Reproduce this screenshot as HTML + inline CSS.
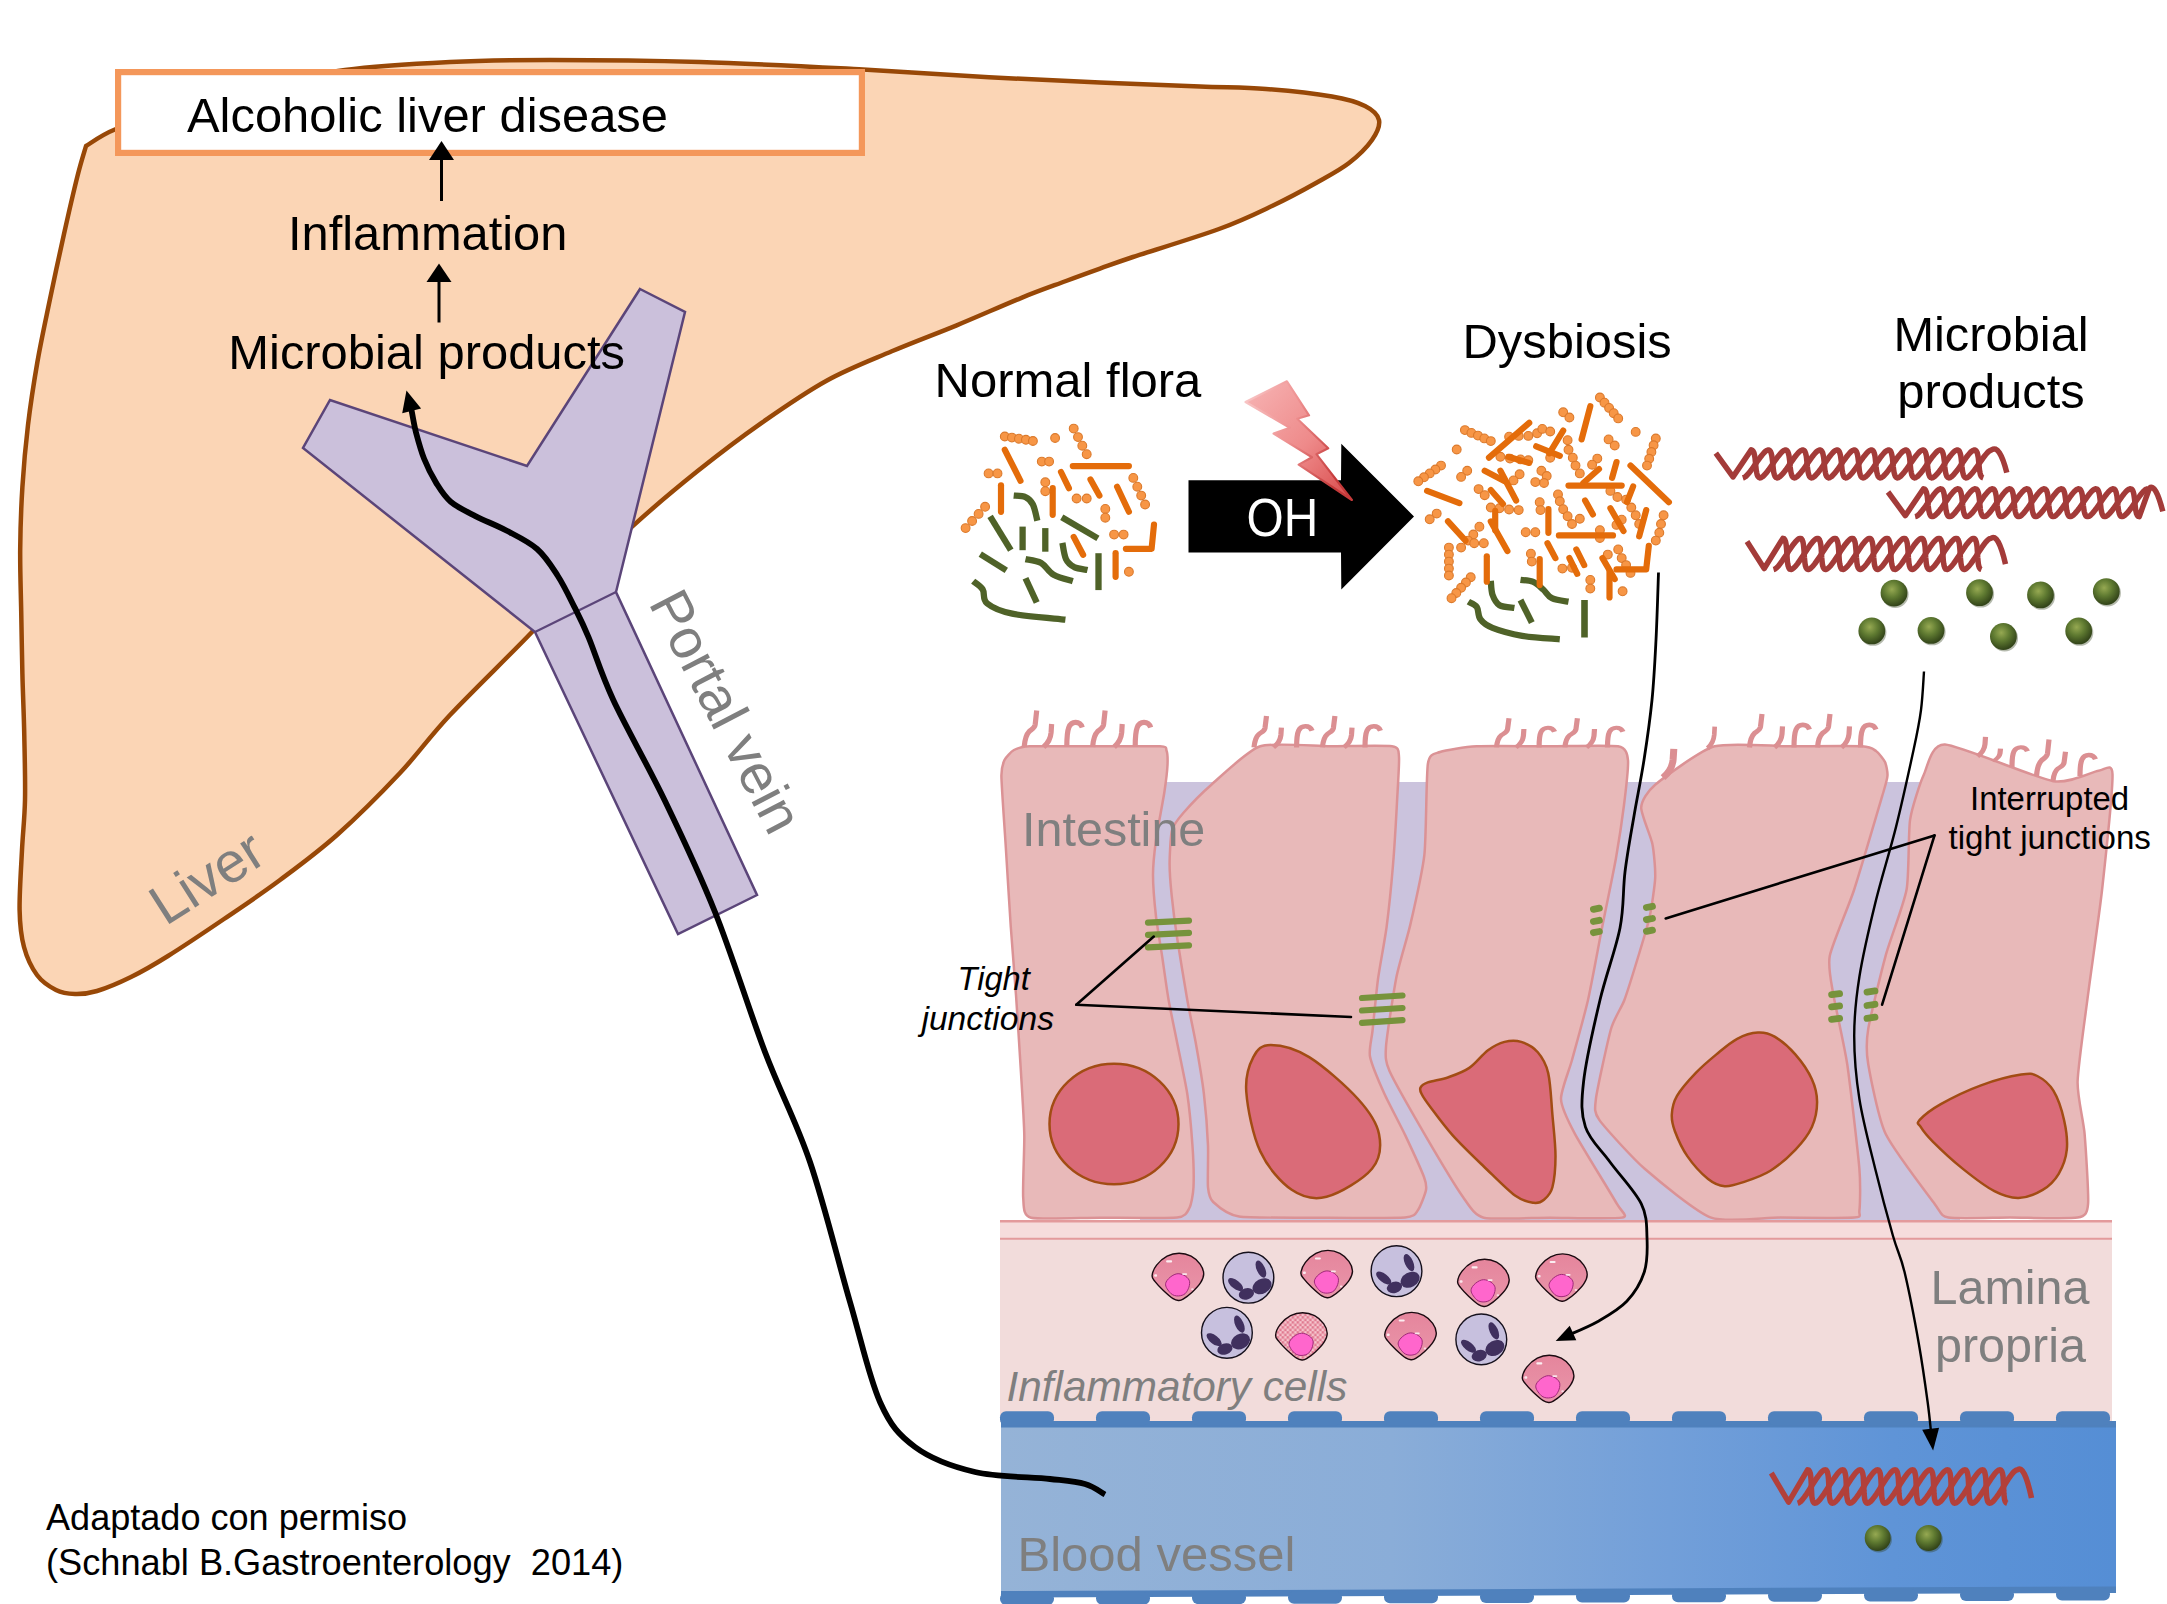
<!DOCTYPE html>
<html><head><meta charset="utf-8"><title>Gut-liver axis</title>
<style>
html,body{margin:0;padding:0;background:#fff;}
body{width:2167px;height:1604px;overflow:hidden;}
svg{display:block}
text{font-family:"Liberation Sans",sans-serif;}
</style></head><body>
<svg width="2167" height="1604" viewBox="0 0 2167 1604">
<defs>
<linearGradient id="gVessel" x1="0" y1="0" x2="1" y2="0">
 <stop offset="0" stop-color="#95B3D7"/><stop offset="0.35" stop-color="#8AADD8"/><stop offset="0.6" stop-color="#729FD9"/><stop offset="0.8" stop-color="#5F94D7"/><stop offset="1" stop-color="#558ED5"/>
</linearGradient>
<linearGradient id="gBolt" x1="0" y1="0" x2="1" y2="1">
 <stop offset="0" stop-color="#F7B5B5"/><stop offset="0.55" stop-color="#EE8A8A"/><stop offset="1" stop-color="#D84848"/>
</linearGradient>
<linearGradient id="gBoltS" x1="0" y1="0" x2="1" y2="0.3">
 <stop offset="0" stop-color="#F9CACA"/><stop offset="0.5" stop-color="#EE9090"/><stop offset="1" stop-color="#C53A3A"/>
</linearGradient>
<radialGradient id="gBall" cx="0.42" cy="0.36" r="0.62">
 <stop offset="0" stop-color="#96A952"/><stop offset="0.5" stop-color="#5F7A31"/><stop offset="1" stop-color="#34461A"/>
</radialGradient>
<pattern id="pCheck" width="5" height="5" patternUnits="userSpaceOnUse">
 <rect width="5" height="5" fill="#F6C6CE"/><rect width="2.5" height="2.5" fill="#E07A90"/><rect x="2.5" y="2.5" width="2.5" height="2.5" fill="#E07A90"/>
</pattern>
</defs>
<rect width="2167" height="1604" fill="#fff"/>
<path d="M86.0,146.0 C91.0,143.2 100.3,135.3 116.0,129.0 C131.7,122.7 156.0,115.0 180.0,108.0 C204.0,101.0 232.5,93.3 260.0,87.0 C287.5,80.7 313.3,74.2 345.0,70.0 C376.7,65.8 415.8,63.7 450.0,62.0 C484.2,60.3 508.3,60.0 550.0,60.0 C591.7,60.0 648.5,60.5 700.0,62.0 C751.5,63.5 810.8,66.7 859.0,69.2 C907.2,71.8 948.8,75.1 989.0,77.3 C1029.2,79.5 1064.8,81.0 1100.0,82.5 C1135.2,84.0 1172.3,85.4 1200.0,86.5 C1227.7,87.6 1244.0,87.3 1266.0,89.0 C1288.0,90.7 1315.5,93.7 1332.0,96.5 C1348.5,99.3 1357.2,102.1 1365.0,106.0 C1372.8,109.9 1377.8,114.3 1379.0,120.0 C1380.2,125.7 1377.0,132.8 1372.0,140.0 C1367.0,147.2 1358.3,155.8 1349.0,163.0 C1339.7,170.2 1328.8,175.8 1316.0,183.0 C1303.2,190.2 1288.2,198.3 1272.0,206.0 C1255.8,213.7 1242.2,220.5 1219.0,229.0 C1195.8,237.5 1152.8,250.4 1133.0,257.0 C1113.2,263.6 1111.2,264.6 1100.0,268.6 C1088.8,272.6 1079.1,276.1 1066.0,281.0 C1052.9,285.9 1039.7,290.4 1021.5,297.8 C1003.3,305.2 978.3,316.4 956.7,325.3 C935.1,334.2 913.4,342.1 891.8,351.3 C870.2,360.5 848.6,368.6 827.0,380.5 C805.4,392.4 783.6,407.5 762.0,422.6 C740.4,437.7 718.9,454.0 697.3,471.3 C675.7,488.6 651.9,508.6 632.4,526.4 C612.9,544.2 596.7,560.4 580.0,578.0 C563.3,595.6 553.7,609.2 532.0,632.0 C510.3,654.8 472.0,691.5 450.0,715.0 C428.0,738.5 418.8,753.0 400.0,773.0 C381.2,793.0 357.0,817.2 337.0,835.0 C317.0,852.8 298.8,866.0 280.0,880.0 C261.2,894.0 242.7,906.3 224.0,919.0 C205.3,931.7 183.5,946.3 168.0,956.0 C152.5,965.7 142.8,971.2 131.0,977.0 C119.2,982.8 106.3,988.2 97.0,991.0 C87.7,993.8 81.8,994.2 75.0,994.0 C68.2,993.8 62.3,993.2 56.0,990.0 C49.7,986.8 42.3,982.2 37.0,975.0 C31.7,967.8 26.9,957.8 24.0,947.0 C21.1,936.2 19.9,926.2 19.6,910.0 C19.3,893.8 21.1,868.3 22.0,850.0 C22.9,831.7 24.6,819.0 25.0,800.0 C25.4,781.0 24.7,757.0 24.3,736.0 C23.9,715.0 22.9,694.8 22.4,674.0 C21.9,653.2 21.6,631.8 21.2,611.0 C20.8,590.2 20.0,569.7 20.2,549.0 C20.4,528.3 21.1,507.7 22.4,487.0 C23.7,466.3 25.5,445.8 28.0,425.0 C30.5,404.2 33.8,382.8 37.4,362.0 C41.0,341.2 45.4,321.3 49.8,300.0 C54.2,278.7 59.4,254.7 64.0,234.0 C68.6,213.3 73.8,190.7 77.5,176.0 C81.2,161.3 84.6,151.0 86.0,146.0Z" fill="#FBD5B5" stroke="#984807" stroke-width="4.5" stroke-linejoin="round"/>
<rect x="118.1" y="72.1" width="743.8" height="80.8" fill="#fff" stroke="#F4975A" stroke-width="6.2"/>
<text x="187" y="132" font-size="48.9" fill="#000">Alcoholic liver disease</text>
<line x1="441.5" y1="201.0" x2="441.5" y2="160.0" stroke="#000" stroke-width="3.0"/>
<polygon points="429.0,160.0 454.0,160.0 441.5,141.0" fill="#000"/>
<text x="288" y="250" font-size="48.8" fill="#000">Inflammation</text>
<line x1="439.0" y1="322.5" x2="439.0" y2="282.0" stroke="#000" stroke-width="3.0"/>
<polygon points="426.5,282.0 451.5,282.0 439.0,263.5" fill="#000"/>
<polygon points="640.0,289.0 685.0,312.0 616.0,592.0 757.0,895.0 678.0,934.0 535.0,632.0 303.0,448.0 330.0,400.0 527.0,466.0" fill="#CBC0DB" stroke="#5B4579" stroke-width="2.5" stroke-linejoin="miter"/>
<line x1="535" y1="632" x2="616" y2="592" stroke="#5B4579" stroke-width="2.2"/>
<text x="228.3" y="369" font-size="48.9" fill="#000">Microbial products</text>
<text transform="translate(165.5,926.5) rotate(-32.5)" font-size="56.5" fill="#7F7F7F">Liver</text>
<text transform="translate(648,603) rotate(62.5)" font-size="56" fill="#7F7F7F">Portal vein</text>
<text x="46" y="1530.3" font-size="36.1" fill="#000">Adaptado con permiso</text>
<text x="46" y="1575.3" font-size="36.2" fill="#000" xml:space="preserve">(Schnabl B.Gastroenterology  2014)</text>
<rect x="1140" y="782" width="820" height="438" fill="#CBC3DD"/>
<path d="M1001.4,776.0 C1001.3,767.0 1003.2,762.8 1004.5,760.0 C1005.8,757.2 1011.3,751.5 1014.0,750.0 C1016.7,748.5 1021.4,746.7 1029.5,746.3 C1037.6,745.9 1076.1,746.3 1090.0,746.3 C1103.9,746.3 1151.8,745.9 1160.0,746.3 C1168.2,746.7 1165.7,748.5 1166.5,750.5 C1167.3,752.5 1167.7,760.6 1167.5,765.0 C1167.3,769.4 1165.6,784.0 1164.4,792.0 C1163.2,800.0 1157.2,831.1 1156.0,840.0 C1154.8,848.9 1153.0,866.8 1153.0,875.0 C1153.0,883.2 1155.0,907.6 1156.0,916.5 C1157.0,925.4 1161.1,949.1 1162.4,958.0 C1163.7,966.9 1167.0,991.0 1168.6,1000.0 C1170.2,1009.0 1175.0,1032.0 1177.0,1042.0 C1179.0,1052.0 1185.6,1082.9 1187.3,1094.0 C1189.0,1105.1 1191.8,1136.1 1192.5,1146.0 C1193.2,1155.9 1193.8,1180.4 1193.5,1187.0 C1193.2,1193.6 1191.2,1204.7 1189.4,1208.0 C1187.6,1211.3 1186.5,1216.5 1177.0,1217.5 C1167.5,1218.5 1115.6,1217.7 1100.0,1217.7 C1084.4,1217.7 1039.2,1219.8 1031.0,1217.7 C1022.8,1215.6 1023.9,1206.5 1023.2,1197.7 C1022.5,1188.9 1024.5,1148.7 1024.3,1135.4 C1024.1,1122.1 1021.9,1088.0 1021.0,1073.0 C1020.1,1058.0 1017.1,1010.6 1016.0,995.0 C1014.9,979.4 1011.9,943.1 1010.8,927.0 C1009.7,910.9 1006.6,860.1 1005.6,844.0 C1004.6,827.9 1001.5,785.0 1001.4,776.0Z" fill="#E8B9B9" stroke="#DB9295" stroke-width="2.5" stroke-linejoin="round"/>
<path d="M1260.3,746.3 C1273.0,742.2 1316.0,746.3 1330.0,746.3 C1344.0,746.3 1384.6,745.2 1392.0,746.3 C1399.4,747.4 1398.5,751.1 1399.0,757.0 C1399.5,762.9 1397.6,790.5 1397.0,802.0 C1396.4,813.5 1394.1,851.7 1393.0,865.0 C1391.9,878.3 1388.2,914.8 1386.6,927.0 C1385.0,939.2 1379.5,967.9 1378.0,979.0 C1376.5,990.1 1373.4,1022.7 1372.5,1031.0 C1371.6,1039.3 1368.7,1049.8 1370.0,1056.5 C1371.3,1063.2 1380.7,1085.6 1384.5,1094.0 C1388.3,1102.4 1401.1,1126.5 1405.3,1135.4 C1409.5,1144.3 1421.8,1171.2 1424.0,1177.0 C1426.2,1182.8 1426.6,1186.5 1426.0,1190.0 C1425.4,1193.5 1420.2,1207.1 1418.0,1210.0 C1415.8,1212.9 1415.5,1216.7 1405.0,1217.5 C1394.5,1218.3 1337.7,1217.8 1320.0,1217.7 C1302.3,1217.6 1250.4,1218.2 1239.0,1216.5 C1227.6,1214.8 1216.5,1205.1 1213.2,1202.0 C1209.9,1198.9 1208.6,1193.3 1208.0,1187.3 C1207.4,1181.3 1208.4,1155.7 1208.0,1145.7 C1207.6,1135.7 1205.2,1104.9 1203.9,1093.8 C1202.6,1082.7 1197.4,1052.0 1195.6,1042.0 C1193.8,1032.0 1189.3,1011.2 1187.3,1000.0 C1185.3,988.8 1178.7,948.4 1177.0,937.3 C1175.3,926.2 1172.5,903.5 1171.7,895.7 C1170.9,887.9 1169.6,871.6 1169.6,864.6 C1169.6,857.6 1170.5,835.5 1172.0,830.0 C1173.5,824.5 1179.3,817.5 1183.5,812.7 C1187.7,807.9 1203.2,791.8 1211.4,784.7 C1219.6,777.6 1247.6,750.4 1260.3,746.3Z" fill="#E8B9B9" stroke="#DB9295" stroke-width="2.5" stroke-linejoin="round"/>
<path d="M1427.9,763.8 C1429.6,752.9 1434.8,753.9 1440.0,752.0 C1445.2,750.1 1465.1,746.9 1476.8,746.3 C1488.5,745.7 1534.9,746.3 1550.0,746.3 C1565.1,746.3 1609.7,744.8 1618.0,746.3 C1626.3,747.8 1627.4,754.0 1628.0,760.3 C1628.6,766.6 1625.3,794.6 1624.0,805.0 C1622.7,815.4 1618.3,844.9 1616.0,858.0 C1613.7,871.1 1605.0,912.9 1602.0,928.0 C1599.0,943.1 1591.2,985.9 1588.0,1000.0 C1584.8,1014.1 1574.9,1049.4 1572.0,1060.0 C1569.1,1070.6 1560.7,1091.1 1561.0,1099.0 C1561.3,1106.9 1568.9,1122.6 1574.9,1133.8 C1580.9,1145.0 1611.8,1194.8 1616.8,1203.7 C1621.8,1212.6 1629.1,1216.1 1622.0,1217.6 C1614.9,1219.1 1564.8,1217.7 1550.0,1217.7 C1535.2,1217.7 1493.0,1219.9 1483.7,1217.7 C1474.4,1215.5 1469.1,1205.7 1462.8,1196.8 C1456.5,1187.9 1432.2,1147.3 1424.4,1133.9 C1416.6,1120.5 1393.6,1080.4 1389.5,1071.1 C1385.4,1061.8 1385.3,1056.7 1386.0,1046.6 C1386.7,1036.5 1393.9,989.8 1396.5,976.8 C1399.1,963.8 1407.4,937.4 1410.4,924.4 C1413.4,911.4 1422.5,871.7 1424.4,854.6 C1426.3,837.5 1426.2,774.7 1427.9,763.8Z" fill="#E8B9B9" stroke="#DB9295" stroke-width="2.5" stroke-linejoin="round"/>
<path d="M1714.6,746.3 C1729.0,742.2 1774.3,746.3 1790.0,746.3 C1805.7,746.3 1852.8,745.8 1862.0,746.3 C1871.2,746.8 1873.5,749.3 1876.0,751.0 C1878.5,752.7 1883.8,759.4 1885.0,762.0 C1886.2,764.6 1887.6,772.0 1887.5,775.0 C1887.4,778.0 1887.6,777.8 1884.0,790.0 C1880.4,802.2 1860.0,871.8 1854.2,889.5 C1848.4,907.2 1832.0,944.6 1829.8,955.8 C1827.6,967.0 1831.4,982.7 1833.3,994.2 C1835.2,1005.7 1844.4,1045.4 1847.2,1064.0 C1850.0,1082.6 1858.1,1153.2 1859.4,1168.8 C1860.7,1184.4 1860.0,1205.5 1859.4,1210.7 C1858.8,1215.9 1862.7,1216.9 1854.2,1217.6 C1845.7,1218.3 1795.3,1217.6 1780.0,1217.6 C1764.7,1217.6 1725.5,1222.8 1711.1,1217.6 C1696.7,1212.4 1656.6,1179.2 1644.7,1168.8 C1632.8,1158.4 1604.5,1127.3 1599.3,1119.9 C1594.1,1112.5 1594.7,1108.7 1595.9,1099.0 C1597.1,1089.3 1608.0,1039.6 1611.0,1029.0 C1614.0,1018.4 1621.5,1007.8 1624.4,1000.0 C1627.3,992.2 1635.7,964.9 1638.4,956.0 C1641.1,947.1 1647.8,925.4 1649.6,917.0 C1651.4,908.6 1654.9,885.4 1655.2,877.6 C1655.5,869.8 1653.9,851.5 1652.4,844.0 C1650.9,836.5 1640.9,813.9 1641.2,807.6 C1641.5,801.3 1647.4,791.2 1655.2,784.7 C1663.0,778.2 1700.2,750.4 1714.6,746.3Z" fill="#E8B9B9" stroke="#DB9295" stroke-width="2.5" stroke-linejoin="round"/>
<path d="M1945.0,744.6 C1931.2,743.9 1927.7,766.3 1924.0,774.3 C1920.3,782.3 1912.0,807.3 1910.1,819.6 C1908.2,831.9 1909.2,875.0 1906.6,889.5 C1904.0,904.0 1889.7,940.9 1885.6,955.8 C1881.5,970.7 1870.1,1017.6 1868.2,1029.1 C1866.3,1040.6 1866.3,1052.8 1868.2,1064.0 C1870.1,1075.2 1878.5,1118.9 1885.6,1133.8 C1892.7,1148.7 1927.8,1194.8 1934.5,1203.7 C1941.2,1212.6 1940.4,1216.1 1948.5,1217.6 C1956.6,1219.1 1996.2,1217.6 2010.0,1217.6 C2023.8,1217.6 2069.3,1219.1 2077.6,1217.6 C2085.9,1216.1 2087.4,1212.6 2088.1,1203.7 C2088.8,1194.8 2085.7,1146.8 2084.6,1133.8 C2083.5,1120.8 2077.2,1096.4 2077.6,1081.5 C2078.0,1066.6 2085.5,1014.7 2088.1,994.2 C2090.7,973.7 2099.5,913.0 2102.1,889.5 C2104.7,866.0 2112.9,787.0 2112.5,774.3 C2112.1,761.6 2104.9,770.1 2098.6,770.8 C2092.3,771.5 2069.6,784.0 2053.2,781.2 C2036.8,778.4 1958.8,745.3 1945.0,744.6Z" fill="#E8B9B9" stroke="#DB9295" stroke-width="2.5" stroke-linejoin="round"/>
<ellipse cx="1114" cy="1124" rx="64.5" ry="60.3" fill="#DA6B78" stroke="#A24C14" stroke-width="2.5"/>
<path d="M1270.8,1044.9 C1280.1,1044.9 1294.7,1048.1 1309.2,1057.1 C1323.7,1066.1 1346.4,1086.2 1358.0,1099.0 C1369.6,1111.8 1376.7,1122.3 1379.0,1133.9 C1381.3,1145.5 1380.7,1158.3 1372.0,1168.8 C1363.3,1179.3 1340.0,1193.3 1326.6,1196.8 C1313.2,1200.3 1302.8,1197.4 1291.7,1189.8 C1280.7,1182.2 1267.9,1167.7 1260.3,1151.4 C1252.7,1135.1 1247.5,1107.7 1246.3,1092.0 C1245.1,1076.3 1249.2,1064.9 1253.3,1057.1 C1257.4,1049.2 1261.5,1044.9 1270.8,1044.9Z" fill="#DA6B78" stroke="#A24C14" stroke-width="2.5"/>
<path d="M1420.5,1087.6 C1421.5,1085.7 1423.1,1084.1 1427.8,1082.4 C1432.5,1080.7 1441.6,1079.6 1448.5,1077.2 C1455.4,1074.8 1462.7,1072.4 1469.3,1067.9 C1475.9,1063.4 1482.1,1054.5 1488.0,1050.2 C1493.9,1045.9 1499.1,1043.3 1504.6,1041.9 C1510.1,1040.5 1515.7,1040.2 1521.2,1041.9 C1526.7,1043.6 1533.3,1047.1 1537.8,1052.3 C1542.3,1057.5 1545.8,1062.7 1548.2,1073.1 C1550.6,1083.5 1551.2,1100.8 1552.4,1114.6 C1553.6,1128.4 1555.5,1144.0 1555.5,1156.1 C1555.5,1168.2 1554.3,1180.0 1552.4,1187.3 C1550.5,1194.6 1547.1,1197.1 1544.0,1199.7 C1540.9,1202.3 1538.5,1203.5 1533.7,1202.8 C1528.9,1202.1 1523.3,1201.6 1515.0,1195.6 C1506.7,1189.5 1494.2,1176.5 1483.8,1166.5 C1473.4,1156.5 1461.7,1145.4 1452.7,1135.4 C1443.7,1125.4 1435.0,1113.2 1429.8,1106.3 C1424.6,1099.4 1423.0,1096.9 1421.5,1093.8 C1420.0,1090.7 1419.5,1089.5 1420.5,1087.6Z" fill="#DA6B78" stroke="#A24C14" stroke-width="2.5"/>
<path d="M1757.9,1032.6 C1764.1,1032.2 1768.4,1033.1 1774.6,1036.7 C1780.8,1040.3 1789.1,1047.3 1795.3,1054.4 C1801.5,1061.5 1808.3,1071.3 1811.9,1079.3 C1815.5,1087.2 1817.1,1094.1 1817.1,1102.1 C1817.1,1110.0 1815.5,1119.0 1811.9,1127.0 C1808.3,1135.0 1802.2,1142.6 1795.3,1149.9 C1788.4,1157.2 1779.1,1165.3 1770.4,1170.7 C1761.8,1176.1 1751.0,1179.5 1743.4,1182.1 C1735.8,1184.7 1730.6,1186.7 1724.7,1186.2 C1718.8,1185.7 1714.3,1184.0 1708.1,1179.0 C1701.9,1174.0 1692.8,1164.1 1687.3,1156.1 C1681.8,1148.1 1677.5,1138.1 1674.9,1131.2 C1672.3,1124.3 1671.5,1120.5 1671.8,1114.6 C1672.1,1108.7 1673.0,1102.8 1677.0,1095.9 C1681.0,1089.0 1689.0,1080.0 1695.6,1073.1 C1702.2,1066.2 1709.5,1060.1 1716.4,1054.4 C1723.3,1048.7 1730.3,1042.4 1737.2,1038.8 C1744.1,1035.2 1751.7,1032.9 1757.9,1032.6Z" fill="#DA6B78" stroke="#A24C14" stroke-width="2.5"/>
<path d="M1919.4,1120.2 C1922.8,1116.4 1930.5,1109.9 1940.8,1104.1 C1951.1,1098.3 1967.6,1090.2 1981.0,1085.3 C1994.4,1080.4 2011.8,1076.1 2021.2,1074.6 C2030.6,1073.0 2031.9,1073.3 2037.3,1076.0 C2042.7,1078.7 2048.9,1083.3 2053.4,1090.7 C2057.9,1098.1 2061.9,1110.4 2064.1,1120.2 C2066.3,1130.0 2067.7,1140.8 2066.8,1149.7 C2065.9,1158.6 2062.7,1167.1 2058.7,1173.8 C2054.7,1180.5 2049.4,1185.9 2042.7,1189.9 C2036.0,1193.9 2026.5,1197.7 2018.5,1197.9 C2010.5,1198.1 2003.8,1196.1 1994.4,1191.2 C1985.0,1186.3 1972.6,1176.7 1962.3,1168.4 C1952.0,1160.1 1939.7,1148.5 1932.8,1141.6 C1925.9,1134.7 1922.9,1130.5 1920.7,1126.9 C1918.5,1123.3 1916.1,1124.0 1919.4,1120.2Z" fill="#DA6B78" stroke="#A24C14" stroke-width="2.5"/>
<rect x="1000" y="1220" width="1112" height="202" fill="#F2DCDB"/>
<rect x="1000" y="1220" width="1112" height="19" fill="#F6DCDC"/>
<line x1="1000" y1="1221.3" x2="2112" y2="1221.3" stroke="#E39A9C" stroke-width="2.4"/>
<line x1="1000" y1="1238.8" x2="2112" y2="1238.8" stroke="#E39A9C" stroke-width="2"/>
<polygon points="1001,1422 2116,1422 2116,1589.5 1001,1594.0" fill="url(#gVessel)"/>
<rect x="1001" y="1421" width="1115" height="6.5" fill="#4F81BD"/>
<polygon points="1001,1591.0 2116,1586.5 2116,1593.0 1001,1597.5" fill="#4F81BD"/>
<rect x="1000.0" y="1411.3" width="54" height="14" rx="6" ry="6" fill="#4F81BD"/>
<rect x="1000.0" y="1592.4" width="54" height="12.5" rx="6" ry="6" fill="#4F81BD"/>
<rect x="1096.0" y="1411.3" width="54" height="14" rx="6" ry="6" fill="#4F81BD"/>
<rect x="1096.0" y="1592.0" width="54" height="12.5" rx="6" ry="6" fill="#4F81BD"/>
<rect x="1192.0" y="1411.3" width="54" height="14" rx="6" ry="6" fill="#4F81BD"/>
<rect x="1192.0" y="1591.6" width="54" height="12.5" rx="6" ry="6" fill="#4F81BD"/>
<rect x="1288.0" y="1411.3" width="54" height="14" rx="6" ry="6" fill="#4F81BD"/>
<rect x="1288.0" y="1591.2" width="54" height="12.5" rx="6" ry="6" fill="#4F81BD"/>
<rect x="1384.0" y="1411.3" width="54" height="14" rx="6" ry="6" fill="#4F81BD"/>
<rect x="1384.0" y="1590.8" width="54" height="12.5" rx="6" ry="6" fill="#4F81BD"/>
<rect x="1480.0" y="1411.3" width="54" height="14" rx="6" ry="6" fill="#4F81BD"/>
<rect x="1480.0" y="1590.5" width="54" height="12.5" rx="6" ry="6" fill="#4F81BD"/>
<rect x="1576.0" y="1411.3" width="54" height="14" rx="6" ry="6" fill="#4F81BD"/>
<rect x="1576.0" y="1590.1" width="54" height="12.5" rx="6" ry="6" fill="#4F81BD"/>
<rect x="1672.0" y="1411.3" width="54" height="14" rx="6" ry="6" fill="#4F81BD"/>
<rect x="1672.0" y="1589.7" width="54" height="12.5" rx="6" ry="6" fill="#4F81BD"/>
<rect x="1768.0" y="1411.3" width="54" height="14" rx="6" ry="6" fill="#4F81BD"/>
<rect x="1768.0" y="1589.3" width="54" height="12.5" rx="6" ry="6" fill="#4F81BD"/>
<rect x="1864.0" y="1411.3" width="54" height="14" rx="6" ry="6" fill="#4F81BD"/>
<rect x="1864.0" y="1588.9" width="54" height="12.5" rx="6" ry="6" fill="#4F81BD"/>
<rect x="1960.0" y="1411.3" width="54" height="14" rx="6" ry="6" fill="#4F81BD"/>
<rect x="1960.0" y="1588.5" width="54" height="12.5" rx="6" ry="6" fill="#4F81BD"/>
<rect x="2056.0" y="1411.3" width="54" height="14" rx="6" ry="6" fill="#4F81BD"/>
<rect x="2056.0" y="1588.1" width="54" height="12.5" rx="6" ry="6" fill="#4F81BD"/>
<text x="1022" y="846" font-size="48.5" fill="#7F7F7F">Intestine</text>
<text x="1017.5" y="1571.4" font-size="49" fill="#7F7F7F">Blood vessel</text>
<text x="1006.5" y="1400.8" font-size="42.3" font-style="italic" fill="#7F7F7F">Inflammatory cells</text>
<text x="2010" y="1304.2" font-size="48.5" text-anchor="middle" fill="#7F7F7F">Lamina</text>
<text x="2010.5" y="1362" font-size="48.5" text-anchor="middle" fill="#7F7F7F">propria</text>
<g id="normalflora">
<path d="M1013.7,495.6 C1015.7,495.8 1022.3,495.6 1025.5,497.1 C1028.7,498.5 1030.9,500.5 1032.9,504.5 C1034.9,508.4 1036.6,518.0 1037.3,520.7" fill="none" stroke="#4F6228" stroke-width="6.3" stroke-linecap="butt" stroke-linejoin="round"/>
<path d="M990.1,516.3 L1010.8,550.2" fill="none" stroke="#4F6228" stroke-width="6.3" stroke-linecap="butt" stroke-linejoin="round"/>
<path d="M1022.6,526.6 L1022.6,550.2" fill="none" stroke="#4F6228" stroke-width="6.3" stroke-linecap="butt" stroke-linejoin="round"/>
<path d="M1045.3,528.1 L1045.3,551.7" fill="none" stroke="#4F6228" stroke-width="6.3" stroke-linecap="butt" stroke-linejoin="round"/>
<path d="M1061.8,517.2 L1097.9,538.4" fill="none" stroke="#4F6228" stroke-width="6.3" stroke-linecap="butt" stroke-linejoin="round"/>
<path d="M1062.4,542.8 C1063.0,545.6 1064.0,555.1 1066.0,559.1 C1067.9,563.1 1070.7,565.2 1074.2,567.1 C1077.8,568.9 1085.3,569.5 1087.5,570.0" fill="none" stroke="#4F6228" stroke-width="6.3" stroke-linecap="butt" stroke-linejoin="round"/>
<path d="M1098.5,553.2 L1098.5,590.1" fill="none" stroke="#4F6228" stroke-width="6.3" stroke-linecap="butt" stroke-linejoin="round"/>
<path d="M980.3,554.1 L1006.3,570.3" fill="none" stroke="#4F6228" stroke-width="6.3" stroke-linecap="butt" stroke-linejoin="round"/>
<path d="M1025.5,559.1 C1028.1,559.7 1036.5,560.3 1041.2,562.9 C1045.8,565.5 1048.3,571.7 1053.6,574.7 C1058.8,577.8 1069.6,580.2 1072.8,581.2" fill="none" stroke="#4F6228" stroke-width="6.3" stroke-linecap="butt" stroke-linejoin="round"/>
<path d="M1025.5,578.3 L1036.7,602.5" fill="none" stroke="#4F6228" stroke-width="6.3" stroke-linecap="butt" stroke-linejoin="round"/>
<path d="M973.2,581.2 C974.8,582.6 980.4,585.8 982.7,589.5 C985.0,593.2 982.2,599.4 987.1,603.4 C992.0,607.4 999.2,611.0 1012.2,613.7 C1025.3,616.4 1056.5,618.6 1065.4,619.6" fill="none" stroke="#4F6228" stroke-width="6.3" stroke-linecap="butt" stroke-linejoin="round"/>
<path d="M1004.8,449.8 L1020.5,480.8" fill="none" stroke="#E46C0A" stroke-width="6.2" stroke-linecap="round" stroke-linejoin="round"/>
<path d="M1001.0,485.3 L1001.0,511.8" fill="none" stroke="#E46C0A" stroke-width="6.2" stroke-linecap="round" stroke-linejoin="round"/>
<path d="M1061.0,472.0 L1068.9,488.2" fill="none" stroke="#E46C0A" stroke-width="6.2" stroke-linecap="round" stroke-linejoin="round"/>
<path d="M1072.8,466.1 L1128.9,466.1" fill="none" stroke="#E46C0A" stroke-width="6.2" stroke-linecap="round" stroke-linejoin="round"/>
<path d="M1090.5,479.4 L1099.4,495.6" fill="none" stroke="#E46C0A" stroke-width="6.2" stroke-linecap="round" stroke-linejoin="round"/>
<path d="M1117.1,486.7 L1128.9,511.8" fill="none" stroke="#E46C0A" stroke-width="6.2" stroke-linecap="round" stroke-linejoin="round"/>
<path d="M1052.7,488.2 L1052.7,514.8" fill="none" stroke="#E46C0A" stroke-width="6.2" stroke-linecap="round" stroke-linejoin="round"/>
<path d="M1073.7,536.9 L1083.1,554.7" fill="none" stroke="#E46C0A" stroke-width="6.2" stroke-linecap="round" stroke-linejoin="round"/>
<path d="M1154.0,524.5 L1151.6,548.8 L1125.9,548.8" fill="none" stroke="#E46C0A" stroke-width="6.2" stroke-linecap="round" stroke-linejoin="round"/>
<path d="M1115.6,553.2 L1115.6,576.8" fill="none" stroke="#E46C0A" stroke-width="6.2" stroke-linecap="round" stroke-linejoin="round"/>
<circle cx="1004.8" cy="436.5" r="4.4" fill="#F79646" stroke="#DC7A2C" stroke-width="1.1"/>
<circle cx="1011.9" cy="437.6" r="4.4" fill="#F79646" stroke="#DC7A2C" stroke-width="1.1"/>
<circle cx="1018.9" cy="438.7" r="4.4" fill="#F79646" stroke="#DC7A2C" stroke-width="1.1"/>
<circle cx="1025.9" cy="439.8" r="4.4" fill="#F79646" stroke="#DC7A2C" stroke-width="1.1"/>
<circle cx="1032.9" cy="441.0" r="4.4" fill="#F79646" stroke="#DC7A2C" stroke-width="1.1"/>
<circle cx="1055.1" cy="438.0" r="4.4" fill="#F79646" stroke="#DC7A2C" stroke-width="1.1"/>
<circle cx="1073.7" cy="428.6" r="4.4" fill="#F79646" stroke="#DC7A2C" stroke-width="1.1"/>
<circle cx="1078.0" cy="437.1" r="4.4" fill="#F79646" stroke="#DC7A2C" stroke-width="1.1"/>
<circle cx="1082.3" cy="445.7" r="4.4" fill="#F79646" stroke="#DC7A2C" stroke-width="1.1"/>
<circle cx="1086.7" cy="454.2" r="4.4" fill="#F79646" stroke="#DC7A2C" stroke-width="1.1"/>
<circle cx="1041.8" cy="461.6" r="4.4" fill="#F79646" stroke="#DC7A2C" stroke-width="1.1"/>
<circle cx="1049.1" cy="461.6" r="4.4" fill="#F79646" stroke="#DC7A2C" stroke-width="1.1"/>
<circle cx="988.6" cy="473.4" r="4.4" fill="#F79646" stroke="#DC7A2C" stroke-width="1.1"/>
<circle cx="997.5" cy="473.4" r="4.4" fill="#F79646" stroke="#DC7A2C" stroke-width="1.1"/>
<circle cx="1045.3" cy="482.3" r="4.4" fill="#F79646" stroke="#DC7A2C" stroke-width="1.1"/>
<circle cx="1045.3" cy="491.2" r="4.4" fill="#F79646" stroke="#DC7A2C" stroke-width="1.1"/>
<circle cx="1076.6" cy="498.5" r="4.4" fill="#F79646" stroke="#DC7A2C" stroke-width="1.1"/>
<circle cx="1086.7" cy="498.5" r="4.4" fill="#F79646" stroke="#DC7A2C" stroke-width="1.1"/>
<circle cx="1105.3" cy="508.9" r="4.4" fill="#F79646" stroke="#DC7A2C" stroke-width="1.1"/>
<circle cx="1105.3" cy="517.7" r="4.4" fill="#F79646" stroke="#DC7A2C" stroke-width="1.1"/>
<circle cx="1114.1" cy="534.6" r="4.4" fill="#F79646" stroke="#DC7A2C" stroke-width="1.1"/>
<circle cx="1123.6" cy="534.6" r="4.4" fill="#F79646" stroke="#DC7A2C" stroke-width="1.1"/>
<circle cx="1128.9" cy="571.8" r="4.4" fill="#F79646" stroke="#DC7A2C" stroke-width="1.1"/>
<circle cx="1133.3" cy="477.9" r="4.4" fill="#F79646" stroke="#DC7A2C" stroke-width="1.1"/>
<circle cx="1137.3" cy="486.7" r="4.4" fill="#F79646" stroke="#DC7A2C" stroke-width="1.1"/>
<circle cx="1141.2" cy="495.6" r="4.4" fill="#F79646" stroke="#DC7A2C" stroke-width="1.1"/>
<circle cx="1145.1" cy="504.5" r="4.4" fill="#F79646" stroke="#DC7A2C" stroke-width="1.1"/>
<circle cx="965.6" cy="528.1" r="4.4" fill="#F79646" stroke="#DC7A2C" stroke-width="1.1"/>
<circle cx="972.1" cy="521.0" r="4.4" fill="#F79646" stroke="#DC7A2C" stroke-width="1.1"/>
<circle cx="978.6" cy="513.9" r="4.4" fill="#F79646" stroke="#DC7A2C" stroke-width="1.1"/>
<circle cx="985.1" cy="506.8" r="4.4" fill="#F79646" stroke="#DC7A2C" stroke-width="1.1"/>
</g>
<g id="dysbiosis">
<path d="M1490.8,580.8 C1491.1,583.1 1491.1,590.7 1492.5,594.7 C1494.0,598.8 1495.9,603.0 1499.5,605.2 C1503.2,607.4 1511.9,607.4 1514.4,607.8" fill="none" stroke="#4F6228" stroke-width="6.3" stroke-linecap="butt" stroke-linejoin="round"/>
<path d="M1520.5,579.9 C1522.5,580.2 1528.9,580.1 1532.7,581.7 C1536.5,583.3 1540.0,586.7 1543.2,589.5 C1546.4,592.3 1547.7,596.2 1551.9,598.2 C1556.1,600.3 1565.7,601.2 1568.5,601.7" fill="none" stroke="#4F6228" stroke-width="6.3" stroke-linecap="butt" stroke-linejoin="round"/>
<path d="M1520.5,600.0 L1531.8,622.7" fill="none" stroke="#4F6228" stroke-width="6.3" stroke-linecap="butt" stroke-linejoin="round"/>
<path d="M1584.5,600.0 L1584.5,637.5" fill="none" stroke="#4F6228" stroke-width="6.6" stroke-linecap="butt" stroke-linejoin="round"/>
<path d="M1468.4,601.7 C1469.8,602.6 1474.8,604.1 1476.8,607.0 C1478.8,609.9 1477.7,615.7 1480.3,619.2 C1482.9,622.7 1485.6,625.2 1492.5,627.9 C1499.5,630.7 1511.0,633.9 1522.2,635.8 C1533.4,637.7 1553.5,638.7 1559.8,639.3" fill="none" stroke="#4F6228" stroke-width="6.3" stroke-linecap="butt" stroke-linejoin="round"/>
<circle cx="1599.9" cy="397.5" r="4.4" fill="#F79646" stroke="#DC7A2C" stroke-width="1.1"/>
<circle cx="1604.5" cy="402.7" r="4.4" fill="#F79646" stroke="#DC7A2C" stroke-width="1.1"/>
<circle cx="1609.1" cy="407.9" r="4.4" fill="#F79646" stroke="#DC7A2C" stroke-width="1.1"/>
<circle cx="1613.7" cy="413.2" r="4.4" fill="#F79646" stroke="#DC7A2C" stroke-width="1.1"/>
<circle cx="1618.2" cy="418.4" r="4.4" fill="#F79646" stroke="#DC7A2C" stroke-width="1.1"/>
<circle cx="1563.2" cy="412.3" r="4.4" fill="#F79646" stroke="#DC7A2C" stroke-width="1.1"/>
<circle cx="1569.4" cy="417.5" r="4.4" fill="#F79646" stroke="#DC7A2C" stroke-width="1.1"/>
<circle cx="1635.7" cy="431.9" r="4.4" fill="#F79646" stroke="#DC7A2C" stroke-width="1.1"/>
<circle cx="1608.6" cy="439.4" r="4.4" fill="#F79646" stroke="#DC7A2C" stroke-width="1.1"/>
<circle cx="1614.7" cy="445.5" r="4.4" fill="#F79646" stroke="#DC7A2C" stroke-width="1.1"/>
<circle cx="1655.8" cy="438.5" r="4.4" fill="#F79646" stroke="#DC7A2C" stroke-width="1.1"/>
<circle cx="1653.6" cy="445.3" r="4.4" fill="#F79646" stroke="#DC7A2C" stroke-width="1.1"/>
<circle cx="1651.4" cy="452.0" r="4.4" fill="#F79646" stroke="#DC7A2C" stroke-width="1.1"/>
<circle cx="1649.2" cy="458.8" r="4.4" fill="#F79646" stroke="#DC7A2C" stroke-width="1.1"/>
<circle cx="1647.0" cy="465.6" r="4.4" fill="#F79646" stroke="#DC7A2C" stroke-width="1.1"/>
<circle cx="1464.9" cy="430.1" r="4.4" fill="#F79646" stroke="#DC7A2C" stroke-width="1.1"/>
<circle cx="1471.4" cy="432.9" r="4.4" fill="#F79646" stroke="#DC7A2C" stroke-width="1.1"/>
<circle cx="1477.9" cy="435.6" r="4.4" fill="#F79646" stroke="#DC7A2C" stroke-width="1.1"/>
<circle cx="1484.3" cy="438.4" r="4.4" fill="#F79646" stroke="#DC7A2C" stroke-width="1.1"/>
<circle cx="1490.8" cy="441.1" r="4.4" fill="#F79646" stroke="#DC7A2C" stroke-width="1.1"/>
<circle cx="1509.1" cy="436.7" r="4.4" fill="#F79646" stroke="#DC7A2C" stroke-width="1.1"/>
<circle cx="1518.7" cy="435.9" r="4.4" fill="#F79646" stroke="#DC7A2C" stroke-width="1.1"/>
<circle cx="1528.3" cy="435.9" r="4.4" fill="#F79646" stroke="#DC7A2C" stroke-width="1.1"/>
<circle cx="1537.1" cy="433.3" r="4.4" fill="#F79646" stroke="#DC7A2C" stroke-width="1.1"/>
<circle cx="1542.3" cy="428.9" r="4.4" fill="#F79646" stroke="#DC7A2C" stroke-width="1.1"/>
<circle cx="1550.2" cy="431.5" r="4.4" fill="#F79646" stroke="#DC7A2C" stroke-width="1.1"/>
<circle cx="1456.7" cy="449.5" r="4.4" fill="#F79646" stroke="#DC7A2C" stroke-width="1.1"/>
<circle cx="1567.6" cy="440.2" r="4.4" fill="#F79646" stroke="#DC7A2C" stroke-width="1.1"/>
<circle cx="1568.5" cy="449.8" r="4.4" fill="#F79646" stroke="#DC7A2C" stroke-width="1.1"/>
<circle cx="1572.8" cy="457.7" r="4.4" fill="#F79646" stroke="#DC7A2C" stroke-width="1.1"/>
<circle cx="1575.5" cy="465.6" r="4.4" fill="#F79646" stroke="#DC7A2C" stroke-width="1.1"/>
<circle cx="1579.8" cy="473.4" r="4.4" fill="#F79646" stroke="#DC7A2C" stroke-width="1.1"/>
<circle cx="1597.3" cy="458.6" r="4.4" fill="#F79646" stroke="#DC7A2C" stroke-width="1.1"/>
<circle cx="1592.1" cy="464.7" r="4.4" fill="#F79646" stroke="#DC7A2C" stroke-width="1.1"/>
<circle cx="1441.0" cy="465.6" r="4.4" fill="#F79646" stroke="#DC7A2C" stroke-width="1.1"/>
<circle cx="1435.4" cy="469.5" r="4.4" fill="#F79646" stroke="#DC7A2C" stroke-width="1.1"/>
<circle cx="1429.7" cy="473.4" r="4.4" fill="#F79646" stroke="#DC7A2C" stroke-width="1.1"/>
<circle cx="1424.0" cy="477.3" r="4.4" fill="#F79646" stroke="#DC7A2C" stroke-width="1.1"/>
<circle cx="1418.3" cy="481.3" r="4.4" fill="#F79646" stroke="#DC7A2C" stroke-width="1.1"/>
<circle cx="1467.2" cy="470.8" r="4.4" fill="#F79646" stroke="#DC7A2C" stroke-width="1.1"/>
<circle cx="1461.1" cy="476.9" r="4.4" fill="#F79646" stroke="#DC7A2C" stroke-width="1.1"/>
<circle cx="1500.4" cy="456.8" r="4.4" fill="#F79646" stroke="#DC7A2C" stroke-width="1.1"/>
<circle cx="1510.0" cy="458.6" r="4.4" fill="#F79646" stroke="#DC7A2C" stroke-width="1.1"/>
<circle cx="1520.5" cy="459.4" r="4.4" fill="#F79646" stroke="#DC7A2C" stroke-width="1.1"/>
<circle cx="1528.3" cy="460.3" r="4.4" fill="#F79646" stroke="#DC7A2C" stroke-width="1.1"/>
<circle cx="1550.2" cy="457.7" r="4.4" fill="#F79646" stroke="#DC7A2C" stroke-width="1.1"/>
<circle cx="1519.6" cy="474.3" r="4.4" fill="#F79646" stroke="#DC7A2C" stroke-width="1.1"/>
<circle cx="1513.5" cy="480.4" r="4.4" fill="#F79646" stroke="#DC7A2C" stroke-width="1.1"/>
<circle cx="1541.4" cy="470.8" r="4.4" fill="#F79646" stroke="#DC7A2C" stroke-width="1.1"/>
<circle cx="1546.7" cy="476.0" r="4.4" fill="#F79646" stroke="#DC7A2C" stroke-width="1.1"/>
<circle cx="1544.0" cy="483.0" r="4.4" fill="#F79646" stroke="#DC7A2C" stroke-width="1.1"/>
<circle cx="1535.3" cy="482.1" r="4.4" fill="#F79646" stroke="#DC7A2C" stroke-width="1.1"/>
<circle cx="1478.6" cy="489.1" r="4.4" fill="#F79646" stroke="#DC7A2C" stroke-width="1.1"/>
<circle cx="1484.7" cy="495.2" r="4.4" fill="#F79646" stroke="#DC7A2C" stroke-width="1.1"/>
<circle cx="1490.8" cy="507.5" r="4.4" fill="#F79646" stroke="#DC7A2C" stroke-width="1.1"/>
<circle cx="1499.5" cy="508.3" r="4.4" fill="#F79646" stroke="#DC7A2C" stroke-width="1.1"/>
<circle cx="1509.1" cy="509.5" r="4.4" fill="#F79646" stroke="#DC7A2C" stroke-width="1.1"/>
<circle cx="1518.7" cy="510.1" r="4.4" fill="#F79646" stroke="#DC7A2C" stroke-width="1.1"/>
<circle cx="1436.7" cy="513.6" r="4.4" fill="#F79646" stroke="#DC7A2C" stroke-width="1.1"/>
<circle cx="1429.7" cy="519.3" r="4.4" fill="#F79646" stroke="#DC7A2C" stroke-width="1.1"/>
<circle cx="1558.0" cy="494.4" r="4.4" fill="#F79646" stroke="#DC7A2C" stroke-width="1.1"/>
<circle cx="1559.8" cy="501.3" r="4.4" fill="#F79646" stroke="#DC7A2C" stroke-width="1.1"/>
<circle cx="1563.2" cy="509.2" r="4.4" fill="#F79646" stroke="#DC7A2C" stroke-width="1.1"/>
<circle cx="1567.6" cy="516.2" r="4.4" fill="#F79646" stroke="#DC7A2C" stroke-width="1.1"/>
<circle cx="1572.0" cy="524.0" r="4.4" fill="#F79646" stroke="#DC7A2C" stroke-width="1.1"/>
<circle cx="1579.8" cy="518.8" r="4.4" fill="#F79646" stroke="#DC7A2C" stroke-width="1.1"/>
<circle cx="1539.7" cy="502.2" r="4.4" fill="#F79646" stroke="#DC7A2C" stroke-width="1.1"/>
<circle cx="1540.5" cy="510.1" r="4.4" fill="#F79646" stroke="#DC7A2C" stroke-width="1.1"/>
<circle cx="1610.4" cy="490.9" r="4.4" fill="#F79646" stroke="#DC7A2C" stroke-width="1.1"/>
<circle cx="1617.4" cy="497.0" r="4.4" fill="#F79646" stroke="#DC7A2C" stroke-width="1.1"/>
<circle cx="1626.1" cy="499.6" r="4.4" fill="#F79646" stroke="#DC7A2C" stroke-width="1.1"/>
<circle cx="1631.3" cy="507.5" r="4.4" fill="#F79646" stroke="#DC7A2C" stroke-width="1.1"/>
<circle cx="1635.7" cy="515.3" r="4.4" fill="#F79646" stroke="#DC7A2C" stroke-width="1.1"/>
<circle cx="1639.2" cy="524.0" r="4.4" fill="#F79646" stroke="#DC7A2C" stroke-width="1.1"/>
<circle cx="1663.6" cy="515.3" r="4.4" fill="#F79646" stroke="#DC7A2C" stroke-width="1.1"/>
<circle cx="1661.0" cy="524.0" r="4.4" fill="#F79646" stroke="#DC7A2C" stroke-width="1.1"/>
<circle cx="1659.3" cy="532.8" r="4.4" fill="#F79646" stroke="#DC7A2C" stroke-width="1.1"/>
<circle cx="1655.8" cy="540.6" r="4.4" fill="#F79646" stroke="#DC7A2C" stroke-width="1.1"/>
<circle cx="1621.7" cy="519.7" r="4.4" fill="#F79646" stroke="#DC7A2C" stroke-width="1.1"/>
<circle cx="1616.5" cy="524.9" r="4.4" fill="#F79646" stroke="#DC7A2C" stroke-width="1.1"/>
<circle cx="1599.9" cy="530.2" r="4.4" fill="#F79646" stroke="#DC7A2C" stroke-width="1.1"/>
<circle cx="1599.9" cy="538.0" r="4.4" fill="#F79646" stroke="#DC7A2C" stroke-width="1.1"/>
<circle cx="1525.7" cy="532.2" r="4.4" fill="#F79646" stroke="#DC7A2C" stroke-width="1.1"/>
<circle cx="1535.3" cy="532.2" r="4.4" fill="#F79646" stroke="#DC7A2C" stroke-width="1.1"/>
<circle cx="1479.4" cy="526.7" r="4.4" fill="#F79646" stroke="#DC7A2C" stroke-width="1.1"/>
<circle cx="1473.3" cy="534.5" r="4.4" fill="#F79646" stroke="#DC7A2C" stroke-width="1.1"/>
<circle cx="1468.1" cy="540.6" r="4.4" fill="#F79646" stroke="#DC7A2C" stroke-width="1.1"/>
<circle cx="1461.1" cy="547.6" r="4.4" fill="#F79646" stroke="#DC7A2C" stroke-width="1.1"/>
<circle cx="1474.2" cy="543.2" r="4.4" fill="#F79646" stroke="#DC7A2C" stroke-width="1.1"/>
<circle cx="1483.8" cy="543.2" r="4.4" fill="#F79646" stroke="#DC7A2C" stroke-width="1.1"/>
<circle cx="1448.9" cy="547.6" r="4.4" fill="#F79646" stroke="#DC7A2C" stroke-width="1.1"/>
<circle cx="1448.9" cy="554.6" r="4.4" fill="#F79646" stroke="#DC7A2C" stroke-width="1.1"/>
<circle cx="1448.9" cy="561.6" r="4.4" fill="#F79646" stroke="#DC7A2C" stroke-width="1.1"/>
<circle cx="1448.9" cy="568.6" r="4.4" fill="#F79646" stroke="#DC7A2C" stroke-width="1.1"/>
<circle cx="1448.9" cy="575.5" r="4.4" fill="#F79646" stroke="#DC7A2C" stroke-width="1.1"/>
<circle cx="1470.7" cy="577.3" r="4.4" fill="#F79646" stroke="#DC7A2C" stroke-width="1.1"/>
<circle cx="1465.9" cy="582.5" r="4.4" fill="#F79646" stroke="#DC7A2C" stroke-width="1.1"/>
<circle cx="1461.1" cy="587.8" r="4.4" fill="#F79646" stroke="#DC7A2C" stroke-width="1.1"/>
<circle cx="1456.3" cy="593.0" r="4.4" fill="#F79646" stroke="#DC7A2C" stroke-width="1.1"/>
<circle cx="1451.5" cy="598.2" r="4.4" fill="#F79646" stroke="#DC7A2C" stroke-width="1.1"/>
<circle cx="1530.9" cy="553.7" r="4.4" fill="#F79646" stroke="#DC7A2C" stroke-width="1.1"/>
<circle cx="1531.8" cy="561.6" r="4.4" fill="#F79646" stroke="#DC7A2C" stroke-width="1.1"/>
<circle cx="1562.4" cy="568.6" r="4.4" fill="#F79646" stroke="#DC7A2C" stroke-width="1.1"/>
<circle cx="1572.0" cy="567.7" r="4.4" fill="#F79646" stroke="#DC7A2C" stroke-width="1.1"/>
<circle cx="1618.2" cy="549.4" r="4.4" fill="#F79646" stroke="#DC7A2C" stroke-width="1.1"/>
<circle cx="1607.8" cy="554.6" r="4.4" fill="#F79646" stroke="#DC7A2C" stroke-width="1.1"/>
<circle cx="1621.7" cy="558.1" r="4.4" fill="#F79646" stroke="#DC7A2C" stroke-width="1.1"/>
<circle cx="1626.1" cy="565.1" r="4.4" fill="#F79646" stroke="#DC7A2C" stroke-width="1.1"/>
<circle cx="1630.5" cy="572.9" r="4.4" fill="#F79646" stroke="#DC7A2C" stroke-width="1.1"/>
<circle cx="1590.3" cy="579.9" r="4.4" fill="#F79646" stroke="#DC7A2C" stroke-width="1.1"/>
<circle cx="1590.3" cy="588.6" r="4.4" fill="#F79646" stroke="#DC7A2C" stroke-width="1.1"/>
<circle cx="1622.6" cy="591.3" r="4.4" fill="#F79646" stroke="#DC7A2C" stroke-width="1.1"/>
<path d="M1590.3,406.2 L1581.6,439.4" fill="none" stroke="#E46C0A" stroke-width="6.2" stroke-linecap="round" stroke-linejoin="round"/>
<path d="M1529.2,422.8 L1489.0,457.7" fill="none" stroke="#E46C0A" stroke-width="6.2" stroke-linecap="round" stroke-linejoin="round"/>
<path d="M1563.2,430.6 L1549.3,453.3" fill="none" stroke="#E46C0A" stroke-width="6.2" stroke-linecap="round" stroke-linejoin="round"/>
<path d="M1536.2,446.3 L1559.8,455.9" fill="none" stroke="#E46C0A" stroke-width="6.2" stroke-linecap="round" stroke-linejoin="round"/>
<path d="M1508.2,456.8 L1529.2,462.9" fill="none" stroke="#E46C0A" stroke-width="6.2" stroke-linecap="round" stroke-linejoin="round"/>
<path d="M1484.7,470.8 L1504.8,481.3" fill="none" stroke="#E46C0A" stroke-width="6.2" stroke-linecap="round" stroke-linejoin="round"/>
<path d="M1500.4,470.8 L1516.1,500.5" fill="none" stroke="#E46C0A" stroke-width="6.2" stroke-linecap="round" stroke-linejoin="round"/>
<path d="M1490.8,490.0 L1503.0,504.0" fill="none" stroke="#E46C0A" stroke-width="6.2" stroke-linecap="round" stroke-linejoin="round"/>
<path d="M1599.0,469.0 L1583.3,483.0" fill="none" stroke="#E46C0A" stroke-width="6.2" stroke-linecap="round" stroke-linejoin="round"/>
<path d="M1616.5,462.1 L1612.1,477.8" fill="none" stroke="#E46C0A" stroke-width="6.2" stroke-linecap="round" stroke-linejoin="round"/>
<path d="M1568.5,485.6 L1621.7,485.6" fill="none" stroke="#E46C0A" stroke-width="6.2" stroke-linecap="round" stroke-linejoin="round"/>
<path d="M1630.5,465.6 L1668.9,502.2" fill="none" stroke="#E46C0A" stroke-width="6.2" stroke-linecap="round" stroke-linejoin="round"/>
<path d="M1427.1,490.9 L1459.4,503.1" fill="none" stroke="#E46C0A" stroke-width="6.2" stroke-linecap="round" stroke-linejoin="round"/>
<path d="M1633.1,486.5 L1627.0,502.2" fill="none" stroke="#E46C0A" stroke-width="6.2" stroke-linecap="round" stroke-linejoin="round"/>
<path d="M1585.1,500.5 L1592.9,514.4" fill="none" stroke="#E46C0A" stroke-width="6.2" stroke-linecap="round" stroke-linejoin="round"/>
<path d="M1610.4,508.3 L1623.5,531.0" fill="none" stroke="#E46C0A" stroke-width="6.2" stroke-linecap="round" stroke-linejoin="round"/>
<path d="M1646.2,510.1 L1639.2,536.3" fill="none" stroke="#E46C0A" stroke-width="6.2" stroke-linecap="round" stroke-linejoin="round"/>
<path d="M1548.4,509.2 L1548.4,532.8" fill="none" stroke="#E46C0A" stroke-width="6.2" stroke-linecap="round" stroke-linejoin="round"/>
<path d="M1495.2,510.9 L1495.2,530.2" fill="none" stroke="#E46C0A" stroke-width="6.2" stroke-linecap="round" stroke-linejoin="round"/>
<path d="M1490.8,521.4 L1507.4,551.1" fill="none" stroke="#E46C0A" stroke-width="6.2" stroke-linecap="round" stroke-linejoin="round"/>
<path d="M1448.0,521.4 L1465.5,540.6" fill="none" stroke="#E46C0A" stroke-width="6.2" stroke-linecap="round" stroke-linejoin="round"/>
<path d="M1558.9,535.4 L1613.0,535.4" fill="none" stroke="#E46C0A" stroke-width="6.2" stroke-linecap="round" stroke-linejoin="round"/>
<path d="M1547.5,543.2 L1555.4,558.1" fill="none" stroke="#E46C0A" stroke-width="6.2" stroke-linecap="round" stroke-linejoin="round"/>
<path d="M1576.3,549.4 L1584.2,565.1" fill="none" stroke="#E46C0A" stroke-width="6.2" stroke-linecap="round" stroke-linejoin="round"/>
<path d="M1569.4,558.1 L1577.2,573.8" fill="none" stroke="#E46C0A" stroke-width="6.2" stroke-linecap="round" stroke-linejoin="round"/>
<path d="M1648.8,545.9 L1646.2,569.4 L1616.5,569.4" fill="none" stroke="#E46C0A" stroke-width="6.2" stroke-linecap="round" stroke-linejoin="round"/>
<path d="M1602.5,558.1 L1614.7,579.0" fill="none" stroke="#E46C0A" stroke-width="6.2" stroke-linecap="round" stroke-linejoin="round"/>
<path d="M1609.5,572.1 L1609.5,597.4" fill="none" stroke="#E46C0A" stroke-width="6.2" stroke-linecap="round" stroke-linejoin="round"/>
<path d="M1486.8,556.3 L1486.8,581.7" fill="none" stroke="#E46C0A" stroke-width="6.2" stroke-linecap="round" stroke-linejoin="round"/>
<path d="M1539.7,559.0 L1539.7,585.1" fill="none" stroke="#E46C0A" stroke-width="6.2" stroke-linecap="round" stroke-linejoin="round"/>
</g>
<polygon points="1188.5,480.2 1341,480.2 1341.3,443.8 1414,516.4 1341.3,589.6 1341,552.6 1188.5,552.6" fill="#000"/>
<text transform="translate(1282.3,535.6) scale(0.99,1.105)" font-size="48.3" text-anchor="middle" fill="#fff">OH</text>
<polygon points="1245.5,402 1286.9,381.3 1309,415.3 1297.2,418.8 1328.2,448.3 1316.4,454.2 1351.9,500 1298.7,464.6 1312,457.2 1273.6,433.6 1289.8,427.7" fill="url(#gBolt)" stroke="url(#gBoltS)" stroke-width="2.2" stroke-linejoin="round"/>
<path d="M1715.8,453.2 L1733.0,476.9 L1751.2,449.9 L1752.3,450.3 L1753.2,451.3 L1754.0,453.0 L1754.5,455.2 L1755.0,457.8 L1755.3,460.8 L1755.6,463.9 L1755.9,467.0 L1756.2,470.0 L1756.7,472.6 L1757.2,474.8 L1758.0,476.5 L1758.9,477.5 L1760.0,477.9 L1761.3,477.5 L1762.9,476.5 L1764.6,474.8 L1766.5,472.6 L1768.5,470.0 L1770.6,467.0 L1772.8,463.9 L1774.9,460.8 L1777.0,457.8 L1779.1,455.2 L1780.9,453.0 L1782.7,451.3 L1784.2,450.3 L1785.5,449.9 L1786.7,450.3 L1787.6,451.3 L1788.3,453.0 L1788.9,455.2 L1789.3,457.8 L1789.7,460.8 L1789.9,463.9 L1790.2,467.0 L1790.6,470.0 L1791.0,472.6 L1791.6,474.8 L1792.3,476.5 L1793.2,477.5 L1794.4,477.9 L1795.7,477.5 L1797.2,476.5 L1798.9,474.8 L1800.8,472.6 L1802.9,470.0 L1805.0,467.0 L1807.1,463.9 L1809.3,460.8 L1811.4,457.8 L1813.4,455.2 L1815.3,453.0 L1817.0,451.3 L1818.6,450.3 L1819.9,449.9 L1821.0,450.3 L1821.9,451.3 L1822.7,453.0 L1823.2,455.2 L1823.7,457.8 L1824.0,460.8 L1824.3,463.9 L1824.6,467.0 L1824.9,470.0 L1825.4,472.6 L1825.9,474.8 L1826.7,476.5 L1827.6,477.5 L1828.7,477.9 L1830.0,477.5 L1831.6,476.5 L1833.3,474.8 L1835.2,472.6 L1837.2,470.0 L1839.3,467.0 L1841.5,463.9 L1843.6,460.8 L1845.8,457.8 L1847.8,455.2 L1849.7,453.0 L1851.4,451.3 L1852.9,450.3 L1854.3,449.9 L1855.4,450.3 L1856.3,451.3 L1857.0,453.0 L1857.6,455.2 L1858.0,457.8 L1858.4,460.8 L1858.7,463.9 L1859.0,467.0 L1859.3,470.0 L1859.7,472.6 L1860.3,474.8 L1861.0,476.5 L1861.9,477.5 L1863.1,477.9 L1864.4,477.5 L1865.9,476.5 L1867.7,474.8 L1869.5,472.6 L1871.6,470.0 L1873.7,467.0 L1875.8,463.9 L1878.0,460.8 L1880.1,457.8 L1882.1,455.2 L1884.0,453.0 L1885.7,451.3 L1887.3,450.3 L1888.6,449.9 L1889.7,450.3 L1890.7,451.3 L1891.4,453.0 L1891.9,455.2 L1892.4,457.8 L1892.7,460.8 L1893.0,463.9 L1893.3,467.0 L1893.7,470.0 L1894.1,472.6 L1894.7,474.8 L1895.4,476.5 L1896.3,477.5 L1897.4,477.9 L1898.8,477.5 L1900.3,476.5 L1902.0,474.8 L1903.9,472.6 L1905.9,470.0 L1908.0,467.0 L1910.2,463.9 L1912.4,460.8 L1914.5,457.8 L1916.5,455.2 L1918.4,453.0 L1920.1,451.3 L1921.6,450.3 L1923.0,449.9 L1924.1,450.3 L1925.0,451.3 L1925.7,453.0 L1926.3,455.2 L1926.7,457.8 L1927.1,460.8 L1927.4,463.9 L1927.7,467.0 L1928.0,470.0 L1928.4,472.6 L1929.0,474.8 L1929.7,476.5 L1930.7,477.5 L1931.8,477.9 L1933.1,477.5 L1934.6,476.5 L1936.4,474.8 L1938.3,472.6 L1940.3,470.0 L1942.4,467.0 L1944.6,463.9 L1946.7,460.8 L1948.8,457.8 L1950.8,455.2 L1952.7,453.0 L1954.5,451.3 L1956.0,450.3 L1957.3,449.9 L1958.4,450.3 L1959.4,451.3 L1960.1,453.0 L1960.7,455.2 L1961.1,457.8 L1961.4,460.8 L1961.7,463.9 L1962.0,467.0 L1962.4,470.0 L1962.8,472.6 L1963.4,474.8 L1964.1,476.5 L1965.0,477.5 L1966.1,477.9 L1967.5,477.5 L1969.0,476.5 L1970.7,474.8 L1972.6,472.6 L1974.6,470.0 L1976.8,467.0 L1978.9,463.9 L1981.1,460.8 L1983.2,457.8 L1985.2,455.2 L1987.1,453.0 L1988.8,451.3 L1990.4,450.3 L1991.7,449.9 Q1999.5,444.2 2006.8,472.6" fill="none" stroke="#A33B39" stroke-width="5.5" stroke-linejoin="round"/>
<path d="M1742.8,477.9 L1744.1,477.5 L1745.7,476.5 L1747.4,474.8 L1749.3,472.6 L1751.3,470.0 L1753.4,467.0 L1755.6,463.9 L1757.7,460.8 L1759.9,457.8 L1761.9,455.2 L1763.8,453.0 L1765.5,451.3 L1767.0,450.3 L1768.4,449.9 L1769.5,450.3 L1770.4,451.3 L1771.1,453.0 L1771.7,455.2 L1772.1,457.8 L1772.5,460.8 L1772.8,463.9 L1773.1,467.0 L1773.4,470.0 L1773.8,472.6 L1774.4,474.8 L1775.1,476.5 L1776.1,477.5 L1777.2,477.9 L1778.5,477.5 L1780.0,476.5 L1781.8,474.8 L1783.7,472.6 L1785.7,470.0 L1787.8,467.0 L1789.9,463.9 L1792.1,460.8 L1794.2,457.8 L1796.2,455.2 L1798.1,453.0 L1799.9,451.3 L1801.4,450.3 L1802.7,449.9 L1803.8,450.3 L1804.8,451.3 L1805.5,453.0 L1806.1,455.2 L1806.5,457.8 L1806.8,460.8 L1807.1,463.9 L1807.4,467.0 L1807.8,470.0 L1808.2,472.6 L1808.8,474.8 L1809.5,476.5 L1810.4,477.5 L1811.5,477.9 L1812.9,477.5 L1814.4,476.5 L1816.1,474.8 L1818.0,472.6 L1820.0,470.0 L1822.1,467.0 L1824.3,463.9 L1826.5,460.8 L1828.6,457.8 L1830.6,455.2 L1832.5,453.0 L1834.2,451.3 L1835.7,450.3 L1837.1,449.9 L1838.2,450.3 L1839.1,451.3 L1839.8,453.0 L1840.4,455.2 L1840.8,457.8 L1841.2,460.8 L1841.5,463.9 L1841.8,467.0 L1842.1,470.0 L1842.6,472.6 L1843.1,474.8 L1843.8,476.5 L1844.8,477.5 L1845.9,477.9 L1847.2,477.5 L1848.8,476.5 L1850.5,474.8 L1852.4,472.6 L1854.4,470.0 L1856.5,467.0 L1858.7,463.9 L1860.8,460.8 L1862.9,457.8 L1865.0,455.2 L1866.8,453.0 L1868.6,451.3 L1870.1,450.3 L1871.4,449.9 L1872.6,450.3 L1873.5,451.3 L1874.2,453.0 L1874.8,455.2 L1875.2,457.8 L1875.5,460.8 L1875.8,463.9 L1876.1,467.0 L1876.5,470.0 L1876.9,472.6 L1877.5,474.8 L1878.2,476.5 L1879.1,477.5 L1880.2,477.9 L1881.6,477.5 L1883.1,476.5 L1884.8,474.8 L1886.7,472.6 L1888.7,470.0 L1890.9,467.0 L1893.0,463.9 L1895.2,460.8 L1897.3,457.8 L1899.3,455.2 L1901.2,453.0 L1902.9,451.3 L1904.5,450.3 L1905.8,449.9 L1906.9,450.3 L1907.8,451.3 L1908.6,453.0 L1909.1,455.2 L1909.6,457.8 L1909.9,460.8 L1910.2,463.9 L1910.5,467.0 L1910.8,470.0 L1911.3,472.6 L1911.8,474.8 L1912.6,476.5 L1913.5,477.5 L1914.6,477.9 L1915.9,477.5 L1917.5,476.5 L1919.2,474.8 L1921.1,472.6 L1923.1,470.0 L1925.2,467.0 L1927.4,463.9 L1929.5,460.8 L1931.6,457.8 L1933.7,455.2 L1935.6,453.0 L1937.3,451.3 L1938.8,450.3 L1940.1,449.9 L1941.3,450.3 L1942.2,451.3 L1942.9,453.0 L1943.5,455.2 L1943.9,457.8 L1944.3,460.8 L1944.6,463.9 L1944.8,467.0 L1945.2,470.0 L1945.6,472.6 L1946.2,474.8 L1946.9,476.5 L1947.8,477.5 L1949.0,477.9 L1950.3,477.5 L1951.8,476.5 L1953.6,474.8 L1955.4,472.6 L1957.5,470.0 L1959.6,467.0 L1961.7,463.9 L1963.9,460.8 L1966.0,457.8 L1968.0,455.2 L1969.9,453.0 L1971.6,451.3 L1973.2,450.3 L1974.5,449.9 L1975.6,450.3 L1976.5,451.3 L1977.3,453.0 L1977.8,455.2 L1978.3,457.8 L1978.6,460.8 L1978.9,463.9 L1979.2,467.0 L1979.5,470.0 L1980.0,472.6 L1980.5,474.8 L1981.3,476.5 L1982.2,477.5 L1983.3,477.9" fill="none" stroke="#A33B39" stroke-width="5.5" stroke-linejoin="round"/>
<path d="M1888.0,492.0 L1905.3,515.6 L1923.5,488.8 L1924.6,489.1 L1925.5,490.1 L1926.3,491.8 L1926.8,494.0 L1927.3,496.6 L1927.6,499.6 L1927.9,502.7 L1928.2,505.8 L1928.6,508.8 L1929.0,511.4 L1929.6,513.6 L1930.3,515.3 L1931.2,516.3 L1932.4,516.6 L1933.7,516.3 L1935.2,515.3 L1937.0,513.6 L1938.9,511.4 L1940.9,508.8 L1943.0,505.8 L1945.2,502.7 L1947.3,499.6 L1949.4,496.6 L1951.5,494.0 L1953.4,491.8 L1955.1,490.1 L1956.6,489.1 L1958.0,488.8 L1959.1,489.1 L1960.0,490.1 L1960.8,491.8 L1961.3,494.0 L1961.8,496.6 L1962.1,499.6 L1962.4,502.7 L1962.7,505.8 L1963.1,508.8 L1963.5,511.4 L1964.1,513.6 L1964.8,515.3 L1965.7,516.3 L1966.9,516.6 L1968.2,516.3 L1969.7,515.3 L1971.5,513.6 L1973.4,511.4 L1975.4,508.8 L1977.5,505.8 L1979.7,502.7 L1981.8,499.6 L1983.9,496.6 L1986.0,494.0 L1987.9,491.8 L1989.6,490.1 L1991.1,489.1 L1992.5,488.8 L1993.6,489.1 L1994.5,490.1 L1995.3,491.8 L1995.8,494.0 L1996.3,496.6 L1996.6,499.6 L1996.9,502.7 L1997.2,505.8 L1997.6,508.8 L1998.0,511.4 L1998.6,513.6 L1999.3,515.3 L2000.2,516.3 L2001.3,516.6 L2002.7,516.3 L2004.2,515.3 L2006.0,513.6 L2007.8,511.4 L2009.9,508.8 L2012.0,505.8 L2014.2,502.7 L2016.3,499.6 L2018.4,496.6 L2020.5,494.0 L2022.4,491.8 L2024.1,490.1 L2025.6,489.1 L2027.0,488.8 L2028.1,489.1 L2029.0,490.1 L2029.7,491.8 L2030.3,494.0 L2030.8,496.6 L2031.1,499.6 L2031.4,502.7 L2031.7,505.8 L2032.0,508.8 L2032.5,511.4 L2033.1,513.6 L2033.8,515.3 L2034.7,516.3 L2035.8,516.6 L2037.2,516.3 L2038.7,515.3 L2040.4,513.6 L2042.3,511.4 L2044.4,508.8 L2046.5,505.8 L2048.6,502.7 L2050.8,499.6 L2052.9,496.6 L2055.0,494.0 L2056.8,491.8 L2058.6,490.1 L2060.1,489.1 L2061.5,488.8 L2062.6,489.1 L2063.5,490.1 L2064.2,491.8 L2064.8,494.0 L2065.2,496.6 L2065.6,499.6 L2065.9,502.7 L2066.2,505.8 L2066.5,508.8 L2067.0,511.4 L2067.5,513.6 L2068.3,515.3 L2069.2,516.3 L2070.3,516.6 L2071.7,516.3 L2073.2,515.3 L2074.9,513.6 L2076.8,511.4 L2078.9,508.8 L2081.0,505.8 L2083.1,502.7 L2085.3,499.6 L2087.4,496.6 L2089.4,494.0 L2091.3,491.8 L2093.1,490.1 L2094.6,489.1 L2095.9,488.8 L2097.1,489.1 L2098.0,490.1 L2098.7,491.8 L2099.3,494.0 L2099.7,496.6 L2100.1,499.6 L2100.4,502.7 L2100.7,505.8 L2101.0,508.8 L2101.5,511.4 L2102.0,513.6 L2102.8,515.3 L2103.7,516.3 L2104.8,516.6 L2106.2,516.3 L2107.7,515.3 L2109.4,513.6 L2111.3,511.4 L2113.4,508.8 L2115.5,505.8 L2117.6,502.7 L2119.8,499.6 L2121.9,496.6 L2123.9,494.0 L2125.8,491.8 L2127.6,490.1 L2129.1,489.1 L2130.4,488.8 L2131.6,489.1 L2132.5,490.1 L2133.2,491.8 L2133.8,494.0 L2134.2,496.6 L2134.6,499.6 L2134.9,502.7 L2135.2,505.8 L2135.5,508.8 L2136.0,511.4 L2136.5,513.6 L2137.3,515.3 L2138.2,516.3 L2139.3,516.6 L2149.5,488.0 Q2155.5,483.0 2162.8,511.4" fill="none" stroke="#A33B39" stroke-width="5.5" stroke-linejoin="round"/>
<path d="M1915.1,516.6 L1916.5,516.3 L1918.0,515.3 L1919.7,513.6 L1921.6,511.4 L1923.6,508.8 L1925.8,505.8 L1927.9,502.7 L1930.1,499.6 L1932.2,496.6 L1934.2,494.0 L1936.1,491.8 L1937.9,490.1 L1939.4,489.1 L1940.7,488.8 L1941.9,489.1 L1942.8,490.1 L1943.5,491.8 L1944.1,494.0 L1944.5,496.6 L1944.9,499.6 L1945.2,502.7 L1945.5,505.8 L1945.8,508.8 L1946.3,511.4 L1946.8,513.6 L1947.6,515.3 L1948.5,516.3 L1949.6,516.6 L1950.9,516.3 L1952.5,515.3 L1954.2,513.6 L1956.1,511.4 L1958.1,508.8 L1960.3,505.8 L1962.4,502.7 L1964.6,499.6 L1966.7,496.6 L1968.7,494.0 L1970.6,491.8 L1972.3,490.1 L1973.9,489.1 L1975.2,488.8 L1976.4,489.1 L1977.3,490.1 L1978.0,491.8 L1978.6,494.0 L1979.0,496.6 L1979.4,499.6 L1979.7,502.7 L1980.0,505.8 L1980.3,508.8 L1980.7,511.4 L1981.3,513.6 L1982.1,515.3 L1983.0,516.3 L1984.1,516.6 L1985.4,516.3 L1987.0,515.3 L1988.7,513.6 L1990.6,511.4 L1992.6,508.8 L1994.7,505.8 L1996.9,502.7 L1999.1,499.6 L2001.2,496.6 L2003.2,494.0 L2005.1,491.8 L2006.8,490.1 L2008.4,489.1 L2009.7,488.8 L2010.8,489.1 L2011.8,490.1 L2012.5,491.8 L2013.1,494.0 L2013.5,496.6 L2013.9,499.6 L2014.2,502.7 L2014.5,505.8 L2014.8,508.8 L2015.2,511.4 L2015.8,513.6 L2016.5,515.3 L2017.5,516.3 L2018.6,516.6 L2019.9,516.3 L2021.5,515.3 L2023.2,513.6 L2025.1,511.4 L2027.1,508.8 L2029.2,505.8 L2031.4,502.7 L2033.6,499.6 L2035.7,496.6 L2037.7,494.0 L2039.6,491.8 L2041.3,490.1 L2042.9,489.1 L2044.2,488.8 L2045.3,489.1 L2046.3,490.1 L2047.0,491.8 L2047.6,494.0 L2048.0,496.6 L2048.3,499.6 L2048.6,502.7 L2048.9,505.8 L2049.3,508.8 L2049.7,511.4 L2050.3,513.6 L2051.0,515.3 L2052.0,516.3 L2053.1,516.6 L2054.4,516.3 L2056.0,515.3 L2057.7,513.6 L2059.6,511.4 L2061.6,508.8 L2063.7,505.8 L2065.9,502.7 L2068.1,499.6 L2070.2,496.6 L2072.2,494.0 L2074.1,491.8 L2075.8,490.1 L2077.4,489.1 L2078.7,488.8 L2079.8,489.1 L2080.7,490.1 L2081.5,491.8 L2082.1,494.0 L2082.5,496.6 L2082.8,499.6 L2083.1,502.7 L2083.4,505.8 L2083.8,508.8 L2084.2,511.4 L2084.8,513.6 L2085.5,515.3 L2086.4,516.3 L2087.6,516.6 L2088.9,516.3 L2090.5,515.3 L2092.2,513.6 L2094.1,511.4 L2096.1,508.8 L2098.2,505.8 L2100.4,502.7 L2102.5,499.6 L2104.7,496.6 L2106.7,494.0 L2108.6,491.8 L2110.3,490.1 L2111.9,489.1 L2113.2,488.8 L2114.3,489.1 L2115.2,490.1 L2116.0,491.8 L2116.5,494.0 L2117.0,496.6 L2117.3,499.6 L2117.6,502.7 L2117.9,505.8 L2118.3,508.8 L2118.7,511.4 L2119.3,513.6 L2120.0,515.3 L2120.9,516.3 L2122.1,516.6 L2123.4,516.3 L2124.9,515.3 L2126.7,513.6 L2128.6,511.4 L2130.6,508.8 L2132.7,505.8 L2134.9,502.7 L2137.0,499.6 L2139.2,496.6 L2141.2,494.0 L2143.1,491.8 L2144.8,490.1 L2146.3,489.1 L2147.7,488.8" fill="none" stroke="#A33B39" stroke-width="5.5" stroke-linejoin="round"/>
<path d="M1747.0,541.6 L1764.2,568.5 L1782.9,538.4 L1784.0,538.7 L1784.9,539.9 L1785.6,541.7 L1786.1,544.2 L1786.4,547.2 L1786.7,550.4 L1786.9,553.9 L1787.1,557.4 L1787.3,560.6 L1787.7,563.6 L1788.2,566.1 L1788.9,567.9 L1789.7,569.1 L1790.9,569.5 L1792.2,569.1 L1793.8,567.9 L1795.6,566.1 L1797.6,563.6 L1799.7,560.6 L1801.9,557.4 L1804.2,553.9 L1806.5,550.4 L1808.7,547.2 L1810.8,544.2 L1812.8,541.7 L1814.6,539.9 L1816.2,538.7 L1817.5,538.4 L1818.7,538.7 L1819.5,539.9 L1820.2,541.7 L1820.7,544.2 L1821.1,547.2 L1821.3,550.4 L1821.5,553.9 L1821.7,557.4 L1822.0,560.6 L1822.3,563.6 L1822.8,566.1 L1823.5,567.9 L1824.4,569.1 L1825.5,569.5 L1826.9,569.1 L1828.5,567.9 L1830.3,566.1 L1832.2,563.6 L1834.4,560.6 L1836.6,557.4 L1838.9,553.9 L1841.1,550.4 L1843.4,547.2 L1845.5,544.2 L1847.5,541.7 L1849.3,539.9 L1850.8,538.7 L1852.2,538.4 L1853.3,538.7 L1854.2,539.9 L1854.9,541.7 L1855.4,544.2 L1855.7,547.2 L1856.0,550.4 L1856.2,553.9 L1856.4,557.4 L1856.7,560.6 L1857.0,563.6 L1857.5,566.1 L1858.2,567.9 L1859.1,569.1 L1860.2,569.5 L1861.6,569.1 L1863.1,567.9 L1864.9,566.1 L1866.9,563.6 L1869.0,560.6 L1871.3,557.4 L1873.5,553.9 L1875.8,550.4 L1878.0,547.2 L1880.2,544.2 L1882.1,541.7 L1883.9,539.9 L1885.5,538.7 L1886.9,538.4 L1888.0,538.7 L1888.9,539.9 L1889.6,541.7 L1890.1,544.2 L1890.4,547.2 L1890.7,550.4 L1890.9,553.9 L1891.1,557.4 L1891.3,560.6 L1891.7,563.6 L1892.2,566.1 L1892.9,567.9 L1893.7,569.1 L1894.9,569.5 L1896.2,569.1 L1897.8,567.9 L1899.6,566.1 L1901.6,563.6 L1903.7,560.6 L1905.9,557.4 L1908.2,553.9 L1910.5,550.4 L1912.7,547.2 L1914.8,544.2 L1916.8,541.7 L1918.6,539.9 L1920.2,538.7 L1921.5,538.4 L1922.7,538.7 L1923.5,539.9 L1924.2,541.7 L1924.7,544.2 L1925.1,547.2 L1925.3,550.4 L1925.5,553.9 L1925.7,557.4 L1926.0,560.6 L1926.3,563.6 L1926.8,566.1 L1927.5,567.9 L1928.4,569.1 L1929.5,569.5 L1930.9,569.1 L1932.5,567.9 L1934.3,566.1 L1936.2,563.6 L1938.4,560.6 L1940.6,557.4 L1942.9,553.9 L1945.1,550.4 L1947.4,547.2 L1949.5,544.2 L1951.5,541.7 L1953.3,539.9 L1954.8,538.7 L1956.2,538.4 L1957.3,538.7 L1958.2,539.9 L1958.9,541.7 L1959.4,544.2 L1959.7,547.2 L1960.0,550.4 L1960.2,553.9 L1960.4,557.4 L1960.7,560.6 L1961.0,563.6 L1961.5,566.1 L1962.2,567.9 L1963.1,569.1 L1964.2,569.5 L1965.6,569.1 L1967.1,567.9 L1968.9,566.1 L1970.9,563.6 L1973.0,560.6 L1975.3,557.4 L1977.5,553.9 L1979.8,550.4 L1982.0,547.2 L1984.2,544.2 L1986.1,541.7 L1987.9,539.9 L1989.5,538.7 L1990.9,538.4 Q1998.2,532.6 2005.5,564.2" fill="none" stroke="#A33B39" stroke-width="5.5" stroke-linejoin="round"/>
<path d="M1773.5,569.5 L1774.9,569.1 L1776.5,567.9 L1778.3,566.1 L1780.2,563.6 L1782.4,560.6 L1784.6,557.4 L1786.9,553.9 L1789.1,550.4 L1791.4,547.2 L1793.5,544.2 L1795.5,541.7 L1797.3,539.9 L1798.8,538.7 L1800.2,538.4 L1801.3,538.7 L1802.2,539.9 L1802.9,541.7 L1803.4,544.2 L1803.7,547.2 L1804.0,550.4 L1804.2,553.9 L1804.4,557.4 L1804.7,560.6 L1805.0,563.6 L1805.5,566.1 L1806.2,567.9 L1807.1,569.1 L1808.2,569.5 L1809.6,569.1 L1811.1,567.9 L1812.9,566.1 L1814.9,563.6 L1817.0,560.6 L1819.3,557.4 L1821.5,553.9 L1823.8,550.4 L1826.0,547.2 L1828.2,544.2 L1830.1,541.7 L1831.9,539.9 L1833.5,538.7 L1834.9,538.4 L1836.0,538.7 L1836.9,539.9 L1837.6,541.7 L1838.1,544.2 L1838.4,547.2 L1838.7,550.4 L1838.9,553.9 L1839.1,557.4 L1839.3,560.6 L1839.7,563.6 L1840.2,566.1 L1840.9,567.9 L1841.7,569.1 L1842.9,569.5 L1844.2,569.1 L1845.8,567.9 L1847.6,566.1 L1849.6,563.6 L1851.7,560.6 L1853.9,557.4 L1856.2,553.9 L1858.5,550.4 L1860.7,547.2 L1862.8,544.2 L1864.8,541.7 L1866.6,539.9 L1868.2,538.7 L1869.5,538.4 L1870.7,538.7 L1871.5,539.9 L1872.2,541.7 L1872.7,544.2 L1873.1,547.2 L1873.3,550.4 L1873.5,553.9 L1873.7,557.4 L1874.0,560.6 L1874.3,563.6 L1874.8,566.1 L1875.5,567.9 L1876.4,569.1 L1877.5,569.5 L1878.9,569.1 L1880.5,567.9 L1882.3,566.1 L1884.2,563.6 L1886.4,560.6 L1888.6,557.4 L1890.9,553.9 L1893.1,550.4 L1895.4,547.2 L1897.5,544.2 L1899.5,541.7 L1901.3,539.9 L1902.8,538.7 L1904.2,538.4 L1905.3,538.7 L1906.2,539.9 L1906.9,541.7 L1907.4,544.2 L1907.7,547.2 L1908.0,550.4 L1908.2,553.9 L1908.4,557.4 L1908.7,560.6 L1909.0,563.6 L1909.5,566.1 L1910.2,567.9 L1911.1,569.1 L1912.2,569.5 L1913.6,569.1 L1915.1,567.9 L1916.9,566.1 L1918.9,563.6 L1921.0,560.6 L1923.3,557.4 L1925.5,553.9 L1927.8,550.4 L1930.0,547.2 L1932.2,544.2 L1934.1,541.7 L1935.9,539.9 L1937.5,538.7 L1938.9,538.4 L1940.0,538.7 L1940.9,539.9 L1941.6,541.7 L1942.1,544.2 L1942.4,547.2 L1942.7,550.4 L1942.9,553.9 L1943.1,557.4 L1943.3,560.6 L1943.7,563.6 L1944.2,566.1 L1944.9,567.9 L1945.7,569.1 L1946.9,569.5 L1948.2,569.1 L1949.8,567.9 L1951.6,566.1 L1953.6,563.6 L1955.7,560.6 L1957.9,557.4 L1960.2,553.9 L1962.5,550.4 L1964.7,547.2 L1966.8,544.2 L1968.8,541.7 L1970.6,539.9 L1972.2,538.7 L1973.5,538.4 L1974.7,538.7 L1975.5,539.9 L1976.2,541.7 L1976.7,544.2 L1977.1,547.2 L1977.3,550.4 L1977.5,553.9 L1977.7,557.4 L1978.0,560.6 L1978.3,563.6 L1978.8,566.1 L1979.5,567.9 L1980.4,569.1 L1981.5,569.5" fill="none" stroke="#A33B39" stroke-width="5.5" stroke-linejoin="round"/>
<circle cx="1895.2" cy="594.6" r="13.4" fill="#2c3a14" opacity="0.35"/>
<circle cx="1894.0" cy="593.1" r="13.4" fill="url(#gBall)"/>
<circle cx="1980.7" cy="594.2" r="13.4" fill="#2c3a14" opacity="0.35"/>
<circle cx="1979.5" cy="592.7" r="13.4" fill="url(#gBall)"/>
<circle cx="2041.7" cy="596.4" r="13.4" fill="#2c3a14" opacity="0.35"/>
<circle cx="2040.5" cy="594.9" r="13.4" fill="url(#gBall)"/>
<circle cx="2107.5" cy="593.1" r="13.4" fill="#2c3a14" opacity="0.35"/>
<circle cx="2106.3" cy="591.6" r="13.4" fill="url(#gBall)"/>
<circle cx="1873.0" cy="632.4" r="13.4" fill="#2c3a14" opacity="0.35"/>
<circle cx="1871.8" cy="630.9" r="13.4" fill="url(#gBall)"/>
<circle cx="1932.2" cy="631.9" r="13.4" fill="#2c3a14" opacity="0.35"/>
<circle cx="1931.0" cy="630.4" r="13.4" fill="url(#gBall)"/>
<circle cx="2004.6" cy="638.0" r="13.4" fill="#2c3a14" opacity="0.35"/>
<circle cx="2003.4" cy="636.5" r="13.4" fill="url(#gBall)"/>
<circle cx="2079.9" cy="632.4" r="13.4" fill="#2c3a14" opacity="0.35"/>
<circle cx="2078.7" cy="630.9" r="13.4" fill="url(#gBall)"/>
<text x="934.5" y="396.6" font-size="49" fill="#000">Normal flora</text>
<text x="1462.5" y="358" font-size="48.9" fill="#000">Dysbiosis</text>
<text x="1991" y="350.8" font-size="48.8" text-anchor="middle" fill="#000">Microbial</text>
<text x="1991" y="408.2" font-size="48.9" text-anchor="middle" fill="#000">products</text>
<defs>
<linearGradient id="gPink" x1="0" y1="0" x2="0" y2="1"><stop offset="0" stop-color="#E5859C"/><stop offset="1" stop-color="#E996AA"/></linearGradient>
<g id="cellP">
 <path d="M-26.0,-1.0 C-25.8,-3.8 -24.0,-8.2 -21.5,-11.5 C-19.0,-14.8 -14.8,-18.5 -11.0,-20.5 C-7.2,-22.5 -3.0,-23.5 1.0,-23.5 C5.0,-23.5 9.5,-22.3 13.0,-20.5 C16.5,-18.7 19.9,-15.4 22.0,-12.5 C24.1,-9.6 25.5,-6.1 25.6,-3.0 C25.7,0.1 24.4,2.9 22.5,6.0 C20.6,9.1 16.9,12.8 14.0,15.5 C11.1,18.2 7.2,21.1 5.0,22.5 C2.8,23.9 2.2,23.9 0.5,23.8 C-1.2,23.7 -2.4,23.7 -5.0,22.0 C-7.6,20.3 -12.0,16.3 -15.0,13.5 C-18.0,10.7 -21.2,7.4 -23.0,5.0 C-24.8,2.6 -26.2,1.8 -26.0,-1.0Z" fill="url(#gPink)" stroke="#1a0a10" stroke-width="1.4"/>
 <path d="M0,-3 C5,-3 11,1 11.5,5 C12,10 9,15 7,17 C4,19.5 -3,20.5 -7,17 C-10,14 -13,10 -12.5,7 C-12,3 -5,-3 0,-3 Z" fill="#FF66CC" stroke="#A02878" stroke-width="1"/>
 <rect x="-12" y="-16.5" width="6" height="2.2" rx="1" fill="#fff" opacity="0.85"/>
 <rect x="-24" y="-2.5" width="3" height="2.6" rx="1" fill="#fff" opacity="0.8"/>
 <rect x="4" y="-3.5" width="5" height="1.8" rx="0.9" fill="#fff" opacity="0.8"/>
 <rect x="13" y="11.5" width="2.6" height="2" rx="1" fill="#fff" opacity="0.7"/>
</g>
<g id="cellK">
 <path d="M-26.0,-1.0 C-25.8,-3.8 -24.0,-8.2 -21.5,-11.5 C-19.0,-14.8 -14.8,-18.5 -11.0,-20.5 C-7.2,-22.5 -3.0,-23.5 1.0,-23.5 C5.0,-23.5 9.5,-22.3 13.0,-20.5 C16.5,-18.7 19.9,-15.4 22.0,-12.5 C24.1,-9.6 25.5,-6.1 25.6,-3.0 C25.7,0.1 24.4,2.9 22.5,6.0 C20.6,9.1 16.9,12.8 14.0,15.5 C11.1,18.2 7.2,21.1 5.0,22.5 C2.8,23.9 2.2,23.9 0.5,23.8 C-1.2,23.7 -2.4,23.7 -5.0,22.0 C-7.6,20.3 -12.0,16.3 -15.0,13.5 C-18.0,10.7 -21.2,7.4 -23.0,5.0 C-24.8,2.6 -26.2,1.8 -26.0,-1.0Z" fill="url(#pCheck)" stroke="#1a0a10" stroke-width="1.4"/>
 <path d="M0,-3 C5,-3 11,1 11.5,5 C12,10 9,15 7,17 C4,19.5 -3,20.5 -7,17 C-10,14 -13,10 -12.5,7 C-12,3 -5,-3 0,-3 Z" fill="#FF66CC" stroke="#A02878" stroke-width="1"/>
</g>
<g id="cellN">
 <circle r="25.4" fill="#C7C0DE" stroke="#15101c" stroke-width="1.4"/>
 <g fill="#40305E">
 <ellipse cx="12.5" cy="-8.6" rx="4.2" ry="9.2" transform="rotate(-24 12.5 -8.6)"/>
 <ellipse cx="13.6" cy="8.6" rx="10" ry="7.4" transform="rotate(-28 13.6 8.6)"/>
 <ellipse cx="-2" cy="16.2" rx="7.8" ry="5.6" transform="rotate(-18 -2 16.2)"/>
 <ellipse cx="-12.8" cy="6.8" rx="9" ry="4.2" transform="rotate(38 -12.8 6.8)"/>
 </g>
</g>
</defs>
<use href="#cellP" x="1178.1" y="1276.7"/>
<use href="#cellP" x="1326.9" y="1273.9"/>
<use href="#cellP" x="1483.6" y="1282.7"/>
<use href="#cellP" x="1561.6" y="1277.4"/>
<use href="#cellP" x="1410.7" y="1335.9"/>
<use href="#cellP" x="1548.3" y="1378.7"/>
<use href="#cellK" x="1301.6" y="1336.2"/>
<use href="#cellN" x="1248.4" y="1277.7"/>
<use href="#cellN" x="1396.5" y="1271.2"/>
<use href="#cellN" x="1226.9" y="1332.8"/>
<use href="#cellN" x="1481.3" y="1339.4"/>
<defs>
<g id="mvS" fill="none" stroke="#DB8F92" stroke-width="5.2"><path d="M0,0.5 C0.5,-6 2,-12 5,-15 C8,-17.5 10.5,-18.5 11,-22 L12.5,-36"/></g>
<g id="mvJ" fill="none" stroke="#DB8F92" stroke-width="5.2"><path d="M0,0.5 C4,-3 7,-8 7.5,-14 L8,-22.5"/></g>
<g id="mvC" fill="none" stroke="#DB8F92" stroke-width="5.2"><path d="M0,0.5 C0,-8 0,-14 2,-19 C4.5,-25.5 13,-26 15.5,-19"/></g>
<g id="mv"><use href="#mvS" x="0"/><use href="#mvJ" x="19.4"/><use href="#mvC" x="42.6"/><use href="#mvS" x="68.4"/><use href="#mvJ" x="90"/><use href="#mvC" x="111"/></g>
</defs>
<use href="#mv" x="1024.2" y="746.5"/>
<g transform="translate(1254,747) scale(1,0.86)"><use href="#mv"/></g>
<g transform="translate(1496.5,747) scale(1,0.8)"><use href="#mv"/></g>
<g transform="translate(1663,777) scale(1.35,1.25)"><use href="#mvJ"/></g>
<g transform="translate(1707.5,748) scale(0.9,0.95)"><use href="#mvJ"/></g>
<g transform="translate(1749.5,747) scale(1,0.92)"><use href="#mvS" x="0"/><use href="#mvJ" x="25"/><use href="#mvC" x="44.5"/><use href="#mvS" x="68"/><use href="#mvJ" x="92"/><use href="#mvC" x="111"/></g>
<g transform="translate(1977.5,756.0) scale(1,0.85)"><use href="#mvJ"/></g>
<g transform="translate(1992.5,761.0) scale(1,0.55)"><use href="#mvJ"/></g>
<g transform="translate(2012.0,766.5) scale(1,0.80)"><use href="#mvC"/></g>
<g transform="translate(2036.5,775.5) scale(1,1.00)"><use href="#mvS"/></g>
<g transform="translate(2053.0,780.5) scale(1,0.80)"><use href="#mvS"/></g>
<g transform="translate(2080.0,775.5) scale(1,0.85)"><use href="#mvC"/></g>
<line x1="1148.0" y1="922.6" x2="1189.0" y2="920.6" stroke="#77933C" stroke-width="6.2" stroke-linecap="round"/>
<line x1="1148.0" y1="934.8" x2="1189.0" y2="932.8" stroke="#77933C" stroke-width="6.2" stroke-linecap="round"/>
<line x1="1148.0" y1="947.4" x2="1189.0" y2="945.4" stroke="#77933C" stroke-width="6.2" stroke-linecap="round"/>
<line x1="1362.0" y1="998.0" x2="1402.5" y2="995.5" stroke="#77933C" stroke-width="6.2" stroke-linecap="round"/>
<line x1="1362.0" y1="1010.5" x2="1402.5" y2="1008.0" stroke="#77933C" stroke-width="6.2" stroke-linecap="round"/>
<line x1="1362.0" y1="1022.8" x2="1402.5" y2="1020.2" stroke="#77933C" stroke-width="6.2" stroke-linecap="round"/>
<line x1="1593.4" y1="909.3" x2="1599.4" y2="908.1" stroke="#77933C" stroke-width="6.8" stroke-linecap="round"/>
<line x1="1593.4" y1="921.5" x2="1599.4" y2="920.3" stroke="#77933C" stroke-width="6.8" stroke-linecap="round"/>
<line x1="1593.4" y1="932.7" x2="1599.4" y2="931.5" stroke="#77933C" stroke-width="6.8" stroke-linecap="round"/>
<line x1="1646.4" y1="907.5" x2="1652.5" y2="906.3" stroke="#77933C" stroke-width="6.8" stroke-linecap="round"/>
<line x1="1646.4" y1="919.7" x2="1652.5" y2="918.5" stroke="#77933C" stroke-width="6.8" stroke-linecap="round"/>
<line x1="1646.4" y1="931.3" x2="1652.5" y2="930.1" stroke="#77933C" stroke-width="6.8" stroke-linecap="round"/>
<line x1="1831.6" y1="994.7" x2="1839.6" y2="993.7" stroke="#77933C" stroke-width="6.8" stroke-linecap="round"/>
<line x1="1831.6" y1="1006.8" x2="1839.6" y2="1005.8" stroke="#77933C" stroke-width="6.8" stroke-linecap="round"/>
<line x1="1831.6" y1="1019.4" x2="1839.6" y2="1018.4" stroke="#77933C" stroke-width="6.8" stroke-linecap="round"/>
<line x1="1867.0" y1="992.1" x2="1875.0" y2="990.9" stroke="#77933C" stroke-width="6.8" stroke-linecap="round"/>
<line x1="1867.0" y1="1005.5" x2="1875.0" y2="1004.3" stroke="#77933C" stroke-width="6.8" stroke-linecap="round"/>
<line x1="1867.0" y1="1018.4" x2="1875.0" y2="1017.2" stroke="#77933C" stroke-width="6.8" stroke-linecap="round"/>
<line x1="1076.3" y1="1004.7" x2="1153.8" y2="936.6" stroke="#000" stroke-width="2.6" stroke-linecap="round"/>
<line x1="1076.3" y1="1004.7" x2="1351.0" y2="1017.0" stroke="#000" stroke-width="2.6" stroke-linecap="round"/>
<line x1="1934.5" y1="835.4" x2="1665.7" y2="918.4" stroke="#000" stroke-width="2.6" stroke-linecap="round"/>
<line x1="1934.5" y1="835.4" x2="1882.1" y2="1004.7" stroke="#000" stroke-width="2.6" stroke-linecap="round"/>
<text x="993.7" y="989.5" font-size="32.7" font-style="italic" text-anchor="middle" fill="#000">Tight</text>
<text x="987.7" y="1029.5" font-size="33.6" font-style="italic" text-anchor="middle" fill="#000">junctions</text>
<text x="2049.6" y="809.9" font-size="32.9" text-anchor="middle" fill="#000">Interrupted</text>
<text x="2049.7" y="849.3" font-size="33.1" text-anchor="middle" fill="#000">tight junctions</text>
<path d="M1658.5,572.5 C1658.1,583.8 1657.1,618.8 1656.0,640.0 C1654.9,661.2 1654.0,680.0 1652.0,700.0 C1650.0,720.0 1647.0,740.7 1644.0,760.0 C1641.0,779.3 1637.2,797.3 1634.0,816.0 C1630.8,834.7 1627.3,853.3 1625.0,872.0 C1622.7,890.7 1624.2,906.7 1620.0,928.0 C1615.8,949.3 1606.1,974.4 1600.0,1000.0 C1593.9,1025.6 1586.0,1060.3 1583.6,1081.5 C1581.2,1102.7 1581.0,1113.5 1585.4,1126.9 C1589.8,1140.3 1600.5,1149.0 1609.8,1161.8 C1619.1,1174.6 1635.0,1191.1 1641.2,1203.7 C1647.4,1216.3 1646.5,1226.2 1647.0,1237.6 C1647.5,1249.0 1647.6,1261.7 1644.2,1272.3 C1640.8,1282.9 1634.5,1293.1 1626.8,1301.3 C1619.1,1309.5 1608.0,1315.7 1597.9,1321.5 C1587.8,1327.3 1571.4,1333.7 1566.1,1336.1" fill="none" stroke="#000" stroke-width="2.8" stroke-linecap="butt" stroke-linejoin="round"/>
<polygon points="1555.7,1340.9 1569.7,1325.7 1576.3,1340.2" fill="#000"/>
<path d="M1924.0,671.5 C1923.5,677.9 1922.7,697.0 1921.0,710.0 C1919.3,723.0 1917.8,730.4 1913.6,749.8 C1909.4,769.2 1902.5,801.0 1896.1,826.6 C1889.7,852.2 1881.3,878.4 1875.2,903.4 C1869.1,928.4 1862.9,954.7 1859.4,976.8 C1855.9,998.9 1854.2,1015.7 1854.2,1036.1 C1854.2,1056.5 1855.9,1076.9 1859.4,1099.0 C1862.9,1121.1 1869.6,1146.0 1875.2,1168.8 C1880.8,1191.6 1888.1,1218.8 1893.0,1236.0 C1897.9,1253.2 1900.3,1254.2 1904.6,1272.3 C1908.9,1290.4 1915.2,1323.0 1919.0,1344.7 C1922.8,1366.4 1925.6,1387.0 1927.7,1402.5 C1929.8,1418.0 1930.9,1431.7 1931.6,1437.5" fill="none" stroke="#000" stroke-width="2.4" stroke-linecap="butt" stroke-linejoin="round"/>
<polygon points="1933.1,1450.6 1922.2,1429.7 1939.1,1427.8" fill="#000"/>
<path d="M1105.0,1494.5 C1101.7,1492.8 1094.2,1486.6 1085.0,1484.0 C1075.8,1481.4 1068.3,1481.0 1050.0,1479.0 C1031.7,1477.0 997.5,1477.3 975.0,1472.0 C952.5,1466.7 930.8,1458.7 915.0,1447.0 C899.2,1435.3 890.8,1426.2 880.0,1402.0 C869.2,1377.8 861.7,1342.0 850.0,1302.0 C838.3,1262.0 824.2,1203.7 810.0,1162.0 C795.8,1120.3 780.8,1093.7 765.0,1052.0 C749.2,1010.3 731.7,953.8 715.0,912.0 C698.3,870.2 682.0,836.3 665.0,801.0 C648.0,765.7 626.0,727.3 613.3,700.0 C600.6,672.7 595.1,653.0 588.6,637.4 C582.1,621.8 579.4,616.9 574.2,606.6 C569.1,596.3 563.9,585.3 557.7,575.7 C551.5,566.1 545.7,556.5 537.1,549.0 C528.5,541.5 516.6,536.0 506.3,530.5 C496.0,525.0 484.7,520.9 475.4,516.1 C466.1,511.3 457.2,507.2 450.7,501.7 C444.2,496.2 440.8,490.3 436.3,483.1 C431.9,475.9 427.4,467.1 424.0,458.5 C420.6,449.9 417.9,439.6 415.8,431.7 C413.8,423.8 412.7,415.9 411.7,411.1 C410.7,406.3 410.0,404.2 409.6,402.8" fill="none" stroke="#000" stroke-width="5.8" stroke-linecap="butt" stroke-linejoin="round"/>
<polygon points="406.5,390.6 421.1,408.6 402.2,413.3" fill="#000"/>
<path d="M1771.3,1473.0 L1788.6,1502.2 L1807.6,1469.8 L1808.7,1470.2 L1809.6,1471.4 L1810.3,1473.4 L1810.7,1476.1 L1811.0,1479.2 L1811.2,1482.8 L1811.3,1486.5 L1811.5,1490.2 L1811.7,1493.8 L1811.9,1496.9 L1812.4,1499.6 L1813.1,1501.6 L1813.9,1502.8 L1815.0,1503.2 L1816.4,1502.8 L1818.0,1501.6 L1819.9,1499.6 L1821.9,1496.9 L1824.1,1493.8 L1826.4,1490.2 L1828.8,1486.5 L1831.2,1482.8 L1833.5,1479.2 L1835.7,1476.1 L1837.7,1473.4 L1839.6,1471.4 L1841.2,1470.2 L1842.6,1469.8 L1843.7,1470.2 L1844.6,1471.4 L1845.2,1473.4 L1845.7,1476.1 L1846.0,1479.2 L1846.2,1482.8 L1846.3,1486.5 L1846.4,1490.2 L1846.6,1493.8 L1846.9,1496.9 L1847.4,1499.6 L1848.0,1501.6 L1848.9,1502.8 L1850.0,1503.2 L1851.4,1502.8 L1853.0,1501.6 L1854.8,1499.6 L1856.9,1496.9 L1859.1,1493.8 L1861.4,1490.2 L1863.8,1486.5 L1866.1,1482.8 L1868.4,1479.2 L1870.6,1476.1 L1872.7,1473.4 L1874.5,1471.4 L1876.2,1470.2 L1877.5,1469.8 L1878.6,1470.2 L1879.5,1471.4 L1880.2,1473.4 L1880.6,1476.1 L1880.9,1479.2 L1881.1,1482.8 L1881.2,1486.5 L1881.4,1490.2 L1881.6,1493.8 L1881.8,1496.9 L1882.3,1499.6 L1883.0,1501.6 L1883.8,1502.8 L1884.9,1503.2 L1886.3,1502.8 L1887.9,1501.6 L1889.8,1499.6 L1891.8,1496.9 L1894.0,1493.8 L1896.3,1490.2 L1898.7,1486.5 L1901.1,1482.8 L1903.4,1479.2 L1905.6,1476.1 L1907.6,1473.4 L1909.5,1471.4 L1911.1,1470.2 L1912.5,1469.8 L1913.6,1470.2 L1914.5,1471.4 L1915.1,1473.4 L1915.6,1476.1 L1915.9,1479.2 L1916.1,1482.8 L1916.2,1486.5 L1916.3,1490.2 L1916.5,1493.8 L1916.8,1496.9 L1917.3,1499.6 L1917.9,1501.6 L1918.8,1502.8 L1919.9,1503.2 L1921.3,1502.8 L1922.9,1501.6 L1924.7,1499.6 L1926.8,1496.9 L1929.0,1493.8 L1931.3,1490.2 L1933.7,1486.5 L1936.0,1482.8 L1938.3,1479.2 L1940.5,1476.1 L1942.6,1473.4 L1944.4,1471.4 L1946.1,1470.2 L1947.4,1469.8 L1948.5,1470.2 L1949.4,1471.4 L1950.1,1473.4 L1950.5,1476.1 L1950.8,1479.2 L1951.0,1482.8 L1951.1,1486.5 L1951.3,1490.2 L1951.5,1493.8 L1951.7,1496.9 L1952.2,1499.6 L1952.9,1501.6 L1953.7,1502.8 L1954.8,1503.2 L1956.2,1502.8 L1957.8,1501.6 L1959.7,1499.6 L1961.7,1496.9 L1963.9,1493.8 L1966.2,1490.2 L1968.6,1486.5 L1971.0,1482.8 L1973.3,1479.2 L1975.5,1476.1 L1977.5,1473.4 L1979.4,1471.4 L1981.0,1470.2 L1982.4,1469.8 L1983.5,1470.2 L1984.4,1471.4 L1985.0,1473.4 L1985.5,1476.1 L1985.8,1479.2 L1986.0,1482.8 L1986.1,1486.5 L1986.2,1490.2 L1986.4,1493.8 L1986.7,1496.9 L1987.2,1499.6 L1987.8,1501.6 L1988.7,1502.8 L1989.8,1503.2 L1991.2,1502.8 L1992.8,1501.6 L1994.6,1499.6 L1996.7,1496.9 L1998.9,1493.8 L2001.2,1490.2 L2003.6,1486.5 L2005.9,1482.8 L2008.2,1479.2 L2010.4,1476.1 L2012.5,1473.4 L2014.3,1471.4 L2016.0,1470.2 L2017.3,1469.8 Q2024.3,1464.0 2031.5,1498.0" fill="none" stroke="#B2403A" stroke-width="5.5" stroke-linejoin="round"/>
<path d="M1797.6,1503.2 L1798.9,1502.8 L1800.6,1501.6 L1802.4,1499.6 L1804.5,1496.9 L1806.7,1493.8 L1809.0,1490.2 L1811.3,1486.5 L1813.7,1482.8 L1816.0,1479.2 L1818.2,1476.1 L1820.3,1473.4 L1822.1,1471.4 L1823.7,1470.2 L1825.1,1469.8 L1826.2,1470.2 L1827.1,1471.4 L1827.7,1473.4 L1828.2,1476.1 L1828.5,1479.2 L1828.7,1482.8 L1828.8,1486.5 L1828.9,1490.2 L1829.1,1493.8 L1829.4,1496.9 L1829.9,1499.6 L1830.5,1501.6 L1831.4,1502.8 L1832.5,1503.2 L1833.9,1502.8 L1835.5,1501.6 L1837.4,1499.6 L1839.4,1496.9 L1841.6,1493.8 L1843.9,1490.2 L1846.3,1486.5 L1848.7,1482.8 L1851.0,1479.2 L1853.2,1476.1 L1855.2,1473.4 L1857.1,1471.4 L1858.7,1470.2 L1860.0,1469.8 L1861.2,1470.2 L1862.0,1471.4 L1862.7,1473.4 L1863.2,1476.1 L1863.4,1479.2 L1863.6,1482.8 L1863.8,1486.5 L1863.9,1490.2 L1864.1,1493.8 L1864.4,1496.9 L1864.8,1499.6 L1865.5,1501.6 L1866.4,1502.8 L1867.5,1503.2 L1868.8,1502.8 L1870.5,1501.6 L1872.3,1499.6 L1874.4,1496.9 L1876.6,1493.8 L1878.9,1490.2 L1881.2,1486.5 L1883.6,1482.8 L1885.9,1479.2 L1888.1,1476.1 L1890.2,1473.4 L1892.0,1471.4 L1893.6,1470.2 L1895.0,1469.8 L1896.1,1470.2 L1897.0,1471.4 L1897.6,1473.4 L1898.1,1476.1 L1898.4,1479.2 L1898.6,1482.8 L1898.7,1486.5 L1898.8,1490.2 L1899.0,1493.8 L1899.3,1496.9 L1899.8,1499.6 L1900.4,1501.6 L1901.3,1502.8 L1902.4,1503.2 L1903.8,1502.8 L1905.4,1501.6 L1907.3,1499.6 L1909.3,1496.9 L1911.5,1493.8 L1913.8,1490.2 L1916.2,1486.5 L1918.6,1482.8 L1920.9,1479.2 L1923.1,1476.1 L1925.1,1473.4 L1927.0,1471.4 L1928.6,1470.2 L1930.0,1469.8 L1931.1,1470.2 L1931.9,1471.4 L1932.6,1473.4 L1933.1,1476.1 L1933.3,1479.2 L1933.5,1482.8 L1933.7,1486.5 L1933.8,1490.2 L1934.0,1493.8 L1934.3,1496.9 L1934.7,1499.6 L1935.4,1501.6 L1936.3,1502.8 L1937.4,1503.2 L1938.7,1502.8 L1940.4,1501.6 L1942.2,1499.6 L1944.3,1496.9 L1946.5,1493.8 L1948.8,1490.2 L1951.1,1486.5 L1953.5,1482.8 L1955.8,1479.2 L1958.0,1476.1 L1960.1,1473.4 L1961.9,1471.4 L1963.5,1470.2 L1964.9,1469.8 L1966.0,1470.2 L1966.9,1471.4 L1967.5,1473.4 L1968.0,1476.1 L1968.3,1479.2 L1968.5,1482.8 L1968.6,1486.5 L1968.7,1490.2 L1968.9,1493.8 L1969.2,1496.9 L1969.7,1499.6 L1970.3,1501.6 L1971.2,1502.8 L1972.3,1503.2 L1973.7,1502.8 L1975.3,1501.6 L1977.2,1499.6 L1979.2,1496.9 L1981.4,1493.8 L1983.7,1490.2 L1986.1,1486.5 L1988.5,1482.8 L1990.8,1479.2 L1993.0,1476.1 L1995.0,1473.4 L1996.9,1471.4 L1998.5,1470.2 L1999.9,1469.8 L2001.0,1470.2 L2001.8,1471.4 L2002.5,1473.4 L2003.0,1476.1 L2003.2,1479.2 L2003.4,1482.8 L2003.6,1486.5 L2003.7,1490.2 L2003.9,1493.8 L2004.2,1496.9 L2004.6,1499.6 L2005.3,1501.6 L2006.2,1502.8 L2007.3,1503.2" fill="none" stroke="#B2403A" stroke-width="5.5" stroke-linejoin="round"/>
<circle cx="1878.9" cy="1539.5" r="13.0" fill="#2c3a14" opacity="0.35"/>
<circle cx="1877.7" cy="1538.0" r="13.0" fill="url(#gBall)"/>
<circle cx="1929.8" cy="1539.5" r="13.0" fill="#2c3a14" opacity="0.35"/>
<circle cx="1928.6" cy="1538.0" r="13.0" fill="url(#gBall)"/>
</svg>
</body></html>
